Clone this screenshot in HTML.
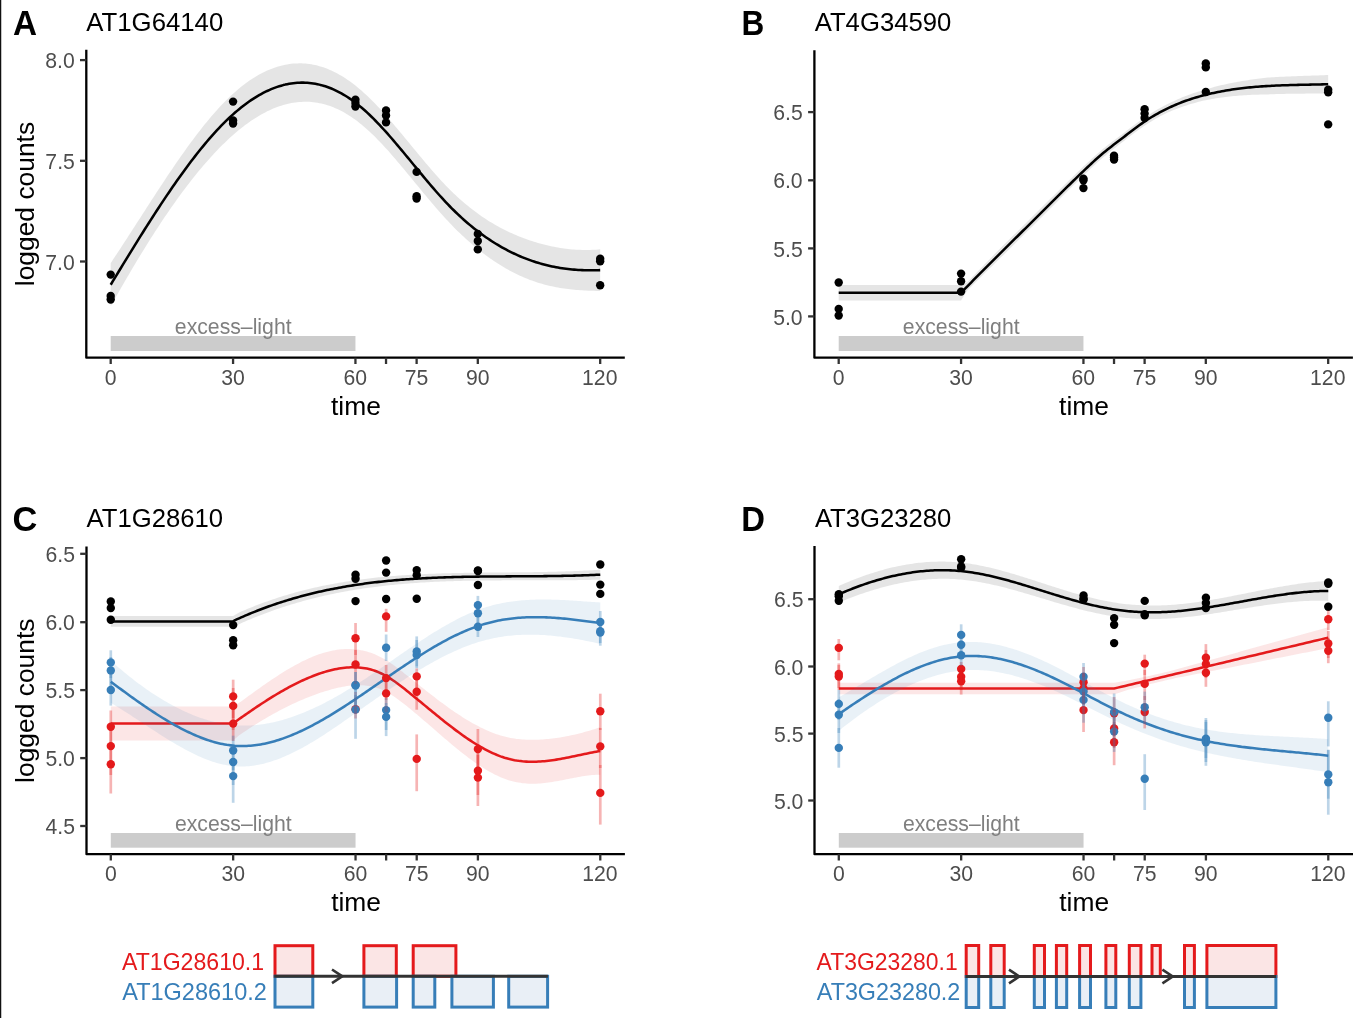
<!DOCTYPE html>
<html><head><meta charset="utf-8"><title>figure</title>
<style>
html,body{margin:0;padding:0;background:#fff;}
body{width:1364px;height:1018px;overflow:hidden;}
svg{display:block;will-change:transform;font-family:"Liberation Sans", sans-serif;}
</style></head>
<body>
<svg width="1364" height="1018" viewBox="0 0 1364 1018">
<rect x="0" y="0" width="1364" height="1018" fill="#fff"/>
<path d="M110.70,263.13 L112.71,260.12 L114.71,257.09 L116.72,254.05 L118.72,250.99 L120.73,247.93 L122.74,244.85 L124.74,241.77 L126.75,238.67 L128.75,235.57 L130.76,232.46 L132.77,229.35 L134.77,226.23 L136.78,223.12 L138.78,220.00 L140.79,216.88 L142.80,213.76 L144.80,210.65 L146.81,207.53 L148.82,204.43 L150.82,201.33 L152.83,198.23 L154.83,195.14 L156.84,192.07 L158.85,189.00 L160.85,185.95 L162.86,182.91 L164.86,179.88 L166.87,176.87 L168.88,173.87 L170.88,170.89 L172.89,167.93 L174.89,165.00 L176.90,162.08 L178.91,159.18 L180.91,156.31 L182.92,153.46 L184.92,150.64 L186.93,147.85 L188.94,145.08 L190.94,142.34 L192.95,139.64 L194.95,136.96 L196.96,134.32 L198.97,131.71 L200.97,129.14 L202.98,126.60 L204.99,124.10 L206.99,121.64 L209.00,119.22 L211.00,116.84 L213.01,114.51 L215.02,112.22 L217.02,109.97 L219.03,107.76 L221.03,105.61 L223.04,103.50 L225.05,101.44 L227.05,99.43 L229.06,97.48 L231.06,95.58 L233.07,93.73 L235.08,91.93 L237.08,90.19 L239.09,88.50 L241.09,86.86 L243.10,85.28 L245.11,83.76 L247.11,82.29 L249.12,80.87 L251.12,79.51 L253.13,78.20 L255.14,76.94 L257.14,75.75 L259.15,74.60 L261.15,73.51 L263.16,72.48 L265.17,71.50 L267.17,70.58 L269.18,69.71 L271.19,68.89 L273.19,68.13 L275.20,67.43 L277.20,66.78 L279.21,66.19 L281.22,65.66 L283.22,65.18 L285.23,64.75 L287.23,64.38 L289.24,64.07 L291.25,63.81 L293.25,63.61 L295.26,63.46 L297.26,63.38 L299.27,63.34 L301.28,63.37 L303.28,63.45 L305.29,63.58 L307.29,63.78 L309.30,64.03 L311.31,64.33 L313.31,64.70 L315.32,65.12 L317.32,65.60 L319.33,66.13 L321.34,66.72 L323.34,67.37 L325.35,68.08 L327.36,68.84 L329.36,69.66 L331.37,70.54 L333.37,71.48 L335.38,72.47 L337.39,73.52 L339.39,74.63 L341.40,75.80 L343.40,77.02 L345.41,78.30 L347.42,79.64 L349.42,81.04 L351.43,82.50 L353.43,84.01 L355.44,85.58 L357.45,87.21 L359.45,88.88 L361.46,90.61 L363.46,92.40 L365.47,94.23 L367.48,96.11 L369.48,98.05 L371.49,100.03 L373.49,102.05 L375.50,104.12 L377.51,106.23 L379.51,108.37 L381.52,110.55 L383.52,112.77 L385.53,115.01 L387.54,117.29 L389.54,119.59 L391.55,121.92 L393.56,124.26 L395.56,126.63 L397.57,129.01 L399.57,131.41 L401.58,133.82 L403.59,136.24 L405.59,138.67 L407.60,141.10 L409.60,143.54 L411.61,145.98 L413.62,148.42 L415.62,150.85 L417.63,153.28 L419.63,155.70 L421.64,158.10 L423.65,160.50 L425.65,162.88 L427.66,165.25 L429.66,167.59 L431.67,169.91 L433.68,172.21 L435.68,174.49 L437.69,176.73 L439.69,178.95 L441.70,181.13 L443.71,183.27 L445.71,185.38 L447.72,187.45 L449.73,189.48 L451.73,191.46 L453.74,193.41 L455.74,195.31 L457.75,197.17 L459.76,198.99 L461.76,200.77 L463.77,202.51 L465.77,204.21 L467.78,205.87 L469.79,207.49 L471.79,209.07 L473.80,210.62 L475.80,212.12 L477.81,213.59 L479.82,215.02 L481.82,216.41 L483.83,217.77 L485.83,219.10 L487.84,220.39 L489.85,221.64 L491.85,222.86 L493.86,224.05 L495.86,225.21 L497.87,226.33 L499.88,227.42 L501.88,228.49 L503.89,229.52 L505.89,230.52 L507.90,231.49 L509.91,232.44 L511.91,233.35 L513.92,234.24 L515.93,235.10 L517.93,235.94 L519.94,236.75 L521.94,237.53 L523.95,238.29 L525.96,239.03 L527.96,239.74 L529.97,240.42 L531.97,241.09 L533.98,241.73 L535.99,242.35 L537.99,242.94 L540.00,243.51 L542.00,244.06 L544.01,244.58 L546.02,245.08 L548.02,245.56 L550.03,246.01 L552.03,246.44 L554.04,246.84 L556.05,247.22 L558.05,247.58 L560.06,247.91 L562.06,248.22 L564.07,248.50 L566.08,248.76 L568.08,248.99 L570.09,249.20 L572.10,249.38 L574.10,249.54 L576.11,249.68 L578.11,249.79 L580.12,249.87 L582.13,249.93 L584.13,249.96 L586.14,249.97 L588.14,249.96 L590.15,249.92 L592.16,249.85 L594.16,249.76 L596.17,249.64 L598.17,249.49 L600.18,249.32 L600.18,290.93 L598.17,290.92 L596.17,290.89 L594.16,290.85 L592.16,290.80 L590.15,290.74 L588.14,290.67 L586.14,290.58 L584.13,290.48 L582.13,290.36 L580.12,290.22 L578.11,290.07 L576.11,289.91 L574.10,289.72 L572.10,289.52 L570.09,289.29 L568.08,289.05 L566.08,288.79 L564.07,288.51 L562.06,288.20 L560.06,287.88 L558.05,287.53 L556.05,287.15 L554.04,286.76 L552.03,286.33 L550.03,285.89 L548.02,285.41 L546.02,284.91 L544.01,284.39 L542.00,283.83 L540.00,283.25 L537.99,282.63 L535.99,281.99 L533.98,281.32 L531.97,280.61 L529.97,279.88 L527.96,279.11 L525.96,278.30 L523.95,277.47 L521.94,276.60 L519.94,275.70 L517.93,274.76 L515.93,273.80 L513.92,272.79 L511.91,271.76 L509.91,270.69 L507.90,269.59 L505.89,268.46 L503.89,267.29 L501.88,266.09 L499.88,264.85 L497.87,263.58 L495.86,262.28 L493.86,260.95 L491.85,259.58 L489.85,258.17 L487.84,256.74 L485.83,255.27 L483.83,253.76 L481.82,252.23 L479.82,250.66 L477.81,249.05 L475.80,247.41 L473.80,245.74 L471.79,244.04 L469.79,242.30 L467.78,240.52 L465.77,238.71 L463.77,236.87 L461.76,235.00 L459.76,233.09 L457.75,231.14 L455.74,229.16 L453.74,227.14 L451.73,225.09 L449.73,223.00 L447.72,220.87 L445.71,218.71 L443.71,216.51 L441.70,214.28 L439.69,212.03 L437.69,209.74 L435.68,207.43 L433.68,205.09 L431.67,202.74 L429.66,200.36 L427.66,197.97 L425.65,195.57 L423.65,193.15 L421.64,190.72 L419.63,188.29 L417.63,185.85 L415.62,183.40 L413.62,180.96 L411.61,178.52 L409.60,176.08 L407.60,173.64 L405.59,171.22 L403.59,168.80 L401.58,166.40 L399.57,164.01 L397.57,161.64 L395.56,159.29 L393.56,156.96 L391.55,154.65 L389.54,152.37 L387.54,150.12 L385.53,147.90 L383.52,145.72 L381.52,143.57 L379.51,141.45 L377.51,139.38 L375.50,137.35 L373.49,135.36 L371.49,133.43 L369.48,131.54 L367.48,129.70 L365.47,127.92 L363.46,126.19 L361.46,124.51 L359.45,122.89 L357.45,121.33 L355.44,119.83 L353.43,118.39 L351.43,117.00 L349.42,115.68 L347.42,114.42 L345.41,113.22 L343.40,112.08 L341.40,111.00 L339.39,109.99 L337.39,109.03 L335.38,108.14 L333.37,107.31 L331.37,106.53 L329.36,105.82 L327.36,105.16 L325.35,104.57 L323.34,104.03 L321.34,103.55 L319.33,103.13 L317.32,102.76 L315.32,102.46 L313.31,102.21 L311.31,102.01 L309.30,101.87 L307.29,101.79 L305.29,101.77 L303.28,101.79 L301.28,101.88 L299.27,102.02 L297.26,102.21 L295.26,102.45 L293.25,102.75 L291.25,103.11 L289.24,103.51 L287.23,103.97 L285.23,104.48 L283.22,105.04 L281.22,105.66 L279.21,106.32 L277.20,107.04 L275.20,107.80 L273.19,108.62 L271.19,109.48 L269.18,110.40 L267.17,111.36 L265.17,112.38 L263.16,113.44 L261.15,114.55 L259.15,115.71 L257.14,116.91 L255.14,118.16 L253.13,119.46 L251.12,120.81 L249.12,122.20 L247.11,123.64 L245.11,125.12 L243.10,126.65 L241.09,128.22 L239.09,129.84 L237.08,131.50 L235.08,133.21 L233.07,134.96 L231.06,136.75 L229.06,138.59 L227.05,140.46 L225.05,142.38 L223.04,144.34 L221.03,146.33 L219.03,148.37 L217.02,150.44 L215.02,152.56 L213.01,154.71 L211.00,156.90 L209.00,159.13 L206.99,161.39 L204.99,163.70 L202.98,166.03 L200.97,168.41 L198.97,170.82 L196.96,173.26 L194.95,175.74 L192.95,178.26 L190.94,180.81 L188.94,183.39 L186.93,186.01 L184.92,188.65 L182.92,191.34 L180.91,194.05 L178.91,196.80 L176.90,199.57 L174.89,202.38 L172.89,205.22 L170.88,208.09 L168.88,210.99 L166.87,213.91 L164.86,216.87 L162.86,219.86 L160.85,222.87 L158.85,225.91 L156.84,228.98 L154.83,232.08 L152.83,235.20 L150.82,238.35 L148.82,241.53 L146.81,244.73 L144.80,247.96 L142.80,251.21 L140.79,254.49 L138.78,257.79 L136.78,261.11 L134.77,264.46 L132.77,267.83 L130.76,271.22 L128.75,274.64 L126.75,278.08 L124.74,281.53 L122.74,285.01 L120.73,288.51 L118.72,292.03 L116.72,295.57 L114.71,299.13 L112.71,302.71 L110.70,306.31 Z" fill="#999999" fill-opacity="0.260" stroke="none" stroke-width="0.00" stroke-linejoin="round"/>
<rect x="110.70" y="336.00" width="244.74" height="15.00" fill="#CCCCCC"/>
<text transform="translate(174.84,334.10) scale(0.9562,1)" font-size="22.20" fill="#7F7F7F">excess–light</text>
<path d="M110.70,284.72 L112.71,281.42 L114.71,278.11 L116.72,274.81 L118.72,271.51 L120.73,268.22 L122.74,264.93 L124.74,261.65 L126.75,258.37 L128.75,255.10 L130.76,251.84 L132.77,248.59 L134.77,245.35 L136.78,242.11 L138.78,238.89 L140.79,235.68 L142.80,232.49 L144.80,229.30 L146.81,226.13 L148.82,222.98 L150.82,219.84 L152.83,216.72 L154.83,213.61 L156.84,210.53 L158.85,207.46 L160.85,204.41 L162.86,201.38 L164.86,198.38 L166.87,195.39 L168.88,192.43 L170.88,189.49 L172.89,186.58 L174.89,183.69 L176.90,180.82 L178.91,177.99 L180.91,175.18 L182.92,172.40 L184.92,169.65 L186.93,166.93 L188.94,164.23 L190.94,161.57 L192.95,158.95 L194.95,156.35 L196.96,153.79 L198.97,151.26 L200.97,148.77 L202.98,146.32 L204.99,143.90 L206.99,141.52 L209.00,139.18 L211.00,136.87 L213.01,134.61 L215.02,132.39 L217.02,130.21 L219.03,128.07 L221.03,125.97 L223.04,123.92 L225.05,121.91 L227.05,119.95 L229.06,118.03 L231.06,116.16 L233.07,114.34 L235.08,112.57 L237.08,110.85 L239.09,109.17 L241.09,107.54 L243.10,105.97 L245.11,104.44 L247.11,102.96 L249.12,101.54 L251.12,100.16 L253.13,98.83 L255.14,97.55 L257.14,96.33 L259.15,95.15 L261.15,94.03 L263.16,92.96 L265.17,91.94 L267.17,90.97 L269.18,90.05 L271.19,89.19 L273.19,88.38 L275.20,87.62 L277.20,86.91 L279.21,86.26 L281.22,85.66 L283.22,85.11 L285.23,84.62 L287.23,84.18 L289.24,83.79 L291.25,83.46 L293.25,83.18 L295.26,82.96 L297.26,82.79 L299.27,82.68 L301.28,82.62 L303.28,82.62 L305.29,82.68 L307.29,82.79 L309.30,82.95 L311.31,83.17 L313.31,83.45 L315.32,83.79 L317.32,84.18 L319.33,84.63 L321.34,85.14 L323.34,85.70 L325.35,86.32 L327.36,87.00 L329.36,87.74 L331.37,88.54 L333.37,89.39 L335.38,90.30 L337.39,91.28 L339.39,92.31 L341.40,93.40 L343.40,94.55 L345.41,95.76 L347.42,97.03 L349.42,98.36 L351.43,99.75 L353.43,101.20 L355.44,102.71 L357.45,104.27 L359.45,105.89 L361.46,107.56 L363.46,109.29 L365.47,111.07 L367.48,112.91 L369.48,114.79 L371.49,116.73 L373.49,118.71 L375.50,120.73 L377.51,122.80 L379.51,124.91 L381.52,127.06 L383.52,129.24 L385.53,131.46 L387.54,133.71 L389.54,135.98 L391.55,138.28 L393.56,140.61 L395.56,142.96 L397.57,145.33 L399.57,147.71 L401.58,150.11 L403.59,152.52 L405.59,154.94 L407.60,157.37 L409.60,159.81 L411.61,162.25 L413.62,164.69 L415.62,167.13 L417.63,169.56 L419.63,171.99 L421.64,174.41 L423.65,176.82 L425.65,179.22 L427.66,181.61 L429.66,183.98 L431.67,186.33 L433.68,188.65 L435.68,190.96 L437.69,193.24 L439.69,195.49 L441.70,197.71 L443.71,199.89 L445.71,202.05 L447.72,204.16 L449.73,206.24 L451.73,208.28 L453.74,210.27 L455.74,212.23 L457.75,214.16 L459.76,216.04 L461.76,217.88 L463.77,219.69 L465.77,221.46 L467.78,223.20 L469.79,224.89 L471.79,226.55 L473.80,228.18 L475.80,229.77 L477.81,231.32 L479.82,232.84 L481.82,234.32 L483.83,235.77 L485.83,237.18 L487.84,238.56 L489.85,239.91 L491.85,241.22 L493.86,242.50 L495.86,243.74 L497.87,244.96 L499.88,246.14 L501.88,247.29 L503.89,248.40 L505.89,249.49 L507.90,250.54 L509.91,251.56 L511.91,252.56 L513.92,253.52 L515.93,254.45 L517.93,255.35 L519.94,256.22 L521.94,257.07 L523.95,257.88 L525.96,258.66 L527.96,259.42 L529.97,260.15 L531.97,260.85 L533.98,261.52 L535.99,262.17 L537.99,262.79 L540.00,263.38 L542.00,263.95 L544.01,264.48 L546.02,265.00 L548.02,265.49 L550.03,265.95 L552.03,266.39 L554.04,266.80 L556.05,267.19 L558.05,267.55 L560.06,267.89 L562.06,268.21 L564.07,268.50 L566.08,268.77 L568.08,269.02 L570.09,269.25 L572.10,269.45 L574.10,269.63 L576.11,269.79 L578.11,269.93 L580.12,270.05 L582.13,270.14 L584.13,270.22 L586.14,270.28 L588.14,270.31 L590.15,270.33 L592.16,270.33 L594.16,270.31 L596.17,270.26 L598.17,270.21 L600.18,270.13" fill="none" stroke="#000" stroke-width="2.55" stroke-linejoin="round"/>
<circle cx="110.70" cy="274.60" r="4.20" fill="#000"/>
<circle cx="110.70" cy="296.00" r="4.20" fill="#000"/>
<circle cx="110.70" cy="299.50" r="4.20" fill="#000"/>
<circle cx="233.07" cy="101.60" r="4.20" fill="#000"/>
<circle cx="233.07" cy="120.40" r="4.20" fill="#000"/>
<circle cx="233.07" cy="123.50" r="4.20" fill="#000"/>
<circle cx="355.44" cy="99.80" r="4.20" fill="#000"/>
<circle cx="355.44" cy="103.00" r="4.20" fill="#000"/>
<circle cx="355.44" cy="106.50" r="4.20" fill="#000"/>
<circle cx="386.03" cy="110.40" r="4.20" fill="#000"/>
<circle cx="386.03" cy="115.50" r="4.20" fill="#000"/>
<circle cx="386.03" cy="122.40" r="4.20" fill="#000"/>
<circle cx="416.62" cy="171.90" r="4.20" fill="#000"/>
<circle cx="416.62" cy="196.20" r="4.20" fill="#000"/>
<circle cx="416.62" cy="198.50" r="4.20" fill="#000"/>
<circle cx="477.81" cy="233.90" r="4.20" fill="#000"/>
<circle cx="477.81" cy="241.00" r="4.20" fill="#000"/>
<circle cx="477.81" cy="249.40" r="4.20" fill="#000"/>
<circle cx="600.18" cy="258.80" r="4.20" fill="#000"/>
<circle cx="600.18" cy="261.20" r="4.20" fill="#000"/>
<circle cx="600.18" cy="285.20" r="4.20" fill="#000"/>
<path d="M86.30,49.70 L86.30,357.70 L624.80,357.70" fill="none" stroke="#000" stroke-width="2.3" stroke-linejoin="round"/>
<line x1="110.70" y1="357.70" x2="110.70" y2="364.00" stroke="#333" stroke-width="2.3"/>
<text transform="translate(104.78,385.20) scale(0.9550,1)" font-size="22.20" fill="#4D4D4D">0</text>
<line x1="233.07" y1="357.70" x2="233.07" y2="364.00" stroke="#333" stroke-width="2.3"/>
<text transform="translate(221.28,385.20) scale(0.9550,1)" font-size="22.20" fill="#4D4D4D">30</text>
<line x1="355.44" y1="357.70" x2="355.44" y2="364.00" stroke="#333" stroke-width="2.3"/>
<text transform="translate(343.55,385.20) scale(0.9550,1)" font-size="22.20" fill="#4D4D4D">60</text>
<line x1="386.03" y1="357.70" x2="386.03" y2="364.00" stroke="#333" stroke-width="2.3"/>
<line x1="416.62" y1="357.70" x2="416.62" y2="364.00" stroke="#333" stroke-width="2.3"/>
<text transform="translate(404.78,385.20) scale(0.9550,1)" font-size="22.20" fill="#4D4D4D">75</text>
<line x1="477.81" y1="357.70" x2="477.81" y2="364.00" stroke="#333" stroke-width="2.3"/>
<text transform="translate(465.97,385.20) scale(0.9550,1)" font-size="22.20" fill="#4D4D4D">90</text>
<line x1="600.18" y1="357.70" x2="600.18" y2="364.00" stroke="#333" stroke-width="2.3"/>
<text transform="translate(582.08,385.20) scale(0.9550,1)" font-size="22.20" fill="#4D4D4D">120</text>
<line x1="80.00" y1="60.10" x2="86.30" y2="60.10" stroke="#333" stroke-width="2.3"/>
<text transform="translate(45.25,68.20) scale(0.9550,1)" font-size="22.20" fill="#4D4D4D">8.0</text>
<line x1="80.00" y1="160.80" x2="86.30" y2="160.80" stroke="#333" stroke-width="2.3"/>
<text transform="translate(45.35,168.90) scale(0.9550,1)" font-size="22.20" fill="#4D4D4D">7.5</text>
<line x1="80.00" y1="261.50" x2="86.30" y2="261.50" stroke="#333" stroke-width="2.3"/>
<text transform="translate(45.25,269.60) scale(0.9550,1)" font-size="22.20" fill="#4D4D4D">7.0</text>
<text transform="translate(331.00,414.60) scale(1.0000,1)" font-size="26.40" fill="#000">time</text>
<text transform="translate(33.70,286.20) rotate(-90)" font-size="26.4" fill="#000">logged counts</text>
<path d="M838.70,285.10 L961.07,285.10 L967.09,282.53 L969.09,280.43 L971.10,278.33 L973.11,276.24 L975.11,274.16 L977.12,272.09 L979.12,270.02 L981.13,267.95 L983.14,265.89 L985.14,263.84 L987.15,261.79 L989.15,259.74 L991.16,257.70 L993.17,255.66 L995.17,253.62 L997.18,251.59 L999.19,249.56 L1001.19,247.53 L1003.20,245.53 L1005.20,243.55 L1007.21,241.56 L1009.22,239.58 L1011.22,237.60 L1013.23,235.62 L1015.23,233.64 L1017.24,231.67 L1019.25,229.69 L1021.25,227.71 L1023.26,225.73 L1025.26,223.75 L1027.27,221.77 L1029.28,219.79 L1031.28,217.81 L1033.29,215.82 L1035.29,213.84 L1037.30,211.85 L1039.31,209.85 L1041.31,207.86 L1043.32,205.86 L1045.32,203.86 L1047.33,201.86 L1049.34,199.86 L1051.34,197.86 L1053.35,195.88 L1055.36,193.90 L1057.36,191.92 L1059.37,189.94 L1061.37,187.96 L1063.38,185.99 L1065.39,184.02 L1067.39,182.05 L1069.40,180.09 L1071.40,178.14 L1073.41,176.19 L1075.42,174.24 L1077.42,172.31 L1079.43,170.38 L1081.43,168.46 L1083.44,166.55 L1085.45,164.65 L1087.45,162.77 L1089.46,160.90 L1091.46,159.06 L1093.47,157.23 L1095.48,155.44 L1097.48,153.67 L1099.49,151.94 L1101.49,150.25 L1103.50,148.59 L1105.51,146.96 L1107.51,145.36 L1109.52,143.79 L1111.52,142.24 L1113.53,140.70 L1115.54,139.18 L1117.54,137.67 L1119.55,136.16 L1121.56,134.66 L1123.56,133.16 L1125.57,131.63 L1127.57,130.08 L1129.58,128.53 L1131.59,126.98 L1133.59,125.44 L1135.60,123.92 L1137.60,122.42 L1139.61,120.95 L1141.62,119.51 L1143.62,118.10 L1145.63,116.74 L1147.63,115.42 L1149.64,114.14 L1151.65,112.89 L1153.65,111.68 L1155.66,110.50 L1157.66,109.36 L1159.67,108.25 L1161.68,107.17 L1163.68,106.12 L1165.69,105.09 L1167.69,104.06 L1169.70,103.05 L1171.71,102.08 L1173.71,101.13 L1175.72,100.21 L1177.73,99.32 L1179.73,98.45 L1181.74,97.61 L1183.74,96.80 L1185.75,96.01 L1187.76,95.25 L1189.76,94.51 L1191.77,93.79 L1193.77,93.09 L1195.78,92.42 L1197.79,91.77 L1199.79,91.14 L1201.80,90.53 L1203.80,89.94 L1205.81,89.36 L1207.82,88.77 L1209.82,88.20 L1211.83,87.64 L1213.83,87.10 L1215.84,86.57 L1217.85,86.06 L1219.85,85.57 L1221.86,85.09 L1223.86,84.63 L1225.87,84.18 L1227.88,83.75 L1229.88,83.33 L1231.89,82.92 L1233.89,82.53 L1235.90,82.15 L1237.91,81.78 L1239.91,81.43 L1241.92,81.08 L1243.93,80.75 L1245.93,80.43 L1247.94,80.13 L1249.94,79.83 L1251.95,79.54 L1253.96,79.26 L1255.96,78.99 L1257.97,78.73 L1259.97,78.48 L1261.98,78.24 L1263.99,78.01 L1265.99,77.78 L1268.00,77.60 L1270.00,77.46 L1272.01,77.33 L1274.02,77.20 L1276.02,77.08 L1278.03,76.97 L1280.03,76.86 L1282.04,76.76 L1284.05,76.66 L1286.05,76.56 L1288.06,76.47 L1290.06,76.39 L1292.07,76.31 L1294.08,76.23 L1296.08,76.15 L1298.09,76.07 L1300.10,76.00 L1302.10,75.93 L1304.11,75.86 L1306.11,75.79 L1308.12,75.72 L1310.13,75.66 L1312.13,75.59 L1314.14,75.52 L1316.14,75.45 L1318.15,75.38 L1320.16,75.31 L1322.16,75.24 L1324.17,75.16 L1326.17,75.09 L1328.18,75.01 L1328.18,93.41 L1326.17,93.43 L1324.17,93.46 L1322.16,93.48 L1320.16,93.50 L1318.15,93.52 L1316.14,93.54 L1314.14,93.55 L1312.13,93.57 L1310.13,93.58 L1308.12,93.60 L1306.11,93.62 L1304.11,93.63 L1302.10,93.65 L1300.10,93.67 L1298.09,93.69 L1296.08,93.71 L1294.08,93.73 L1292.07,93.76 L1290.06,93.79 L1288.06,93.83 L1286.05,93.86 L1284.05,93.90 L1282.04,93.95 L1280.03,94.00 L1278.03,94.06 L1276.02,94.12 L1274.02,94.19 L1272.01,94.26 L1270.00,94.34 L1268.00,94.42 L1265.99,94.48 L1263.99,94.51 L1261.98,94.55 L1259.97,94.59 L1257.97,94.65 L1255.96,94.71 L1253.96,94.78 L1251.95,94.86 L1249.94,94.95 L1247.94,95.06 L1245.93,95.17 L1243.93,95.29 L1241.92,95.43 L1239.91,95.57 L1237.91,95.73 L1235.90,95.90 L1233.89,96.08 L1231.89,96.28 L1229.88,96.49 L1227.88,96.71 L1225.87,96.95 L1223.86,97.20 L1221.86,97.47 L1219.85,97.75 L1217.85,98.04 L1215.84,98.36 L1213.83,98.68 L1211.83,99.03 L1209.82,99.39 L1207.82,99.77 L1205.81,100.16 L1203.80,100.62 L1201.80,101.09 L1199.79,101.58 L1197.79,102.10 L1195.78,102.63 L1193.77,103.19 L1191.77,103.76 L1189.76,104.36 L1187.76,104.98 L1185.75,105.63 L1183.74,106.30 L1181.74,107.00 L1179.73,107.72 L1177.73,108.46 L1175.72,109.24 L1173.71,110.04 L1171.71,110.87 L1169.70,111.73 L1167.69,112.61 L1165.69,113.53 L1163.68,114.51 L1161.68,115.54 L1159.67,116.60 L1157.66,117.69 L1155.66,118.81 L1153.65,119.97 L1151.65,121.16 L1149.64,122.39 L1147.63,123.65 L1145.63,124.95 L1143.62,126.29 L1141.62,127.68 L1139.61,129.10 L1137.60,130.56 L1135.60,132.04 L1133.59,133.54 L1131.59,135.05 L1129.58,136.58 L1127.57,138.11 L1125.57,139.64 L1123.56,141.17 L1121.56,142.73 L1119.55,144.28 L1117.54,145.83 L1115.54,147.39 L1113.53,148.97 L1111.52,150.55 L1109.52,152.15 L1107.51,153.77 L1105.51,155.42 L1103.50,157.10 L1101.49,158.80 L1099.49,160.55 L1097.48,162.33 L1095.48,164.14 L1093.47,165.99 L1091.46,167.86 L1089.46,169.75 L1087.45,171.67 L1085.45,173.60 L1083.44,175.55 L1081.43,177.50 L1079.43,179.45 L1077.42,181.42 L1075.42,183.39 L1073.41,185.37 L1071.40,187.36 L1069.40,189.35 L1067.39,191.35 L1065.39,193.35 L1063.38,195.36 L1061.37,197.37 L1059.37,199.38 L1057.36,201.40 L1055.36,203.42 L1053.35,205.43 L1051.34,207.45 L1049.34,209.46 L1047.33,211.46 L1045.32,213.46 L1043.32,215.46 L1041.31,217.46 L1039.31,219.45 L1037.30,221.45 L1035.29,223.44 L1033.29,225.42 L1031.28,227.41 L1029.28,229.39 L1027.27,231.37 L1025.26,233.35 L1023.26,235.33 L1021.25,237.31 L1019.25,239.29 L1017.24,241.27 L1015.23,243.24 L1013.23,245.22 L1011.22,247.20 L1009.22,249.18 L1007.21,251.16 L1005.20,253.15 L1003.20,255.13 L1001.19,257.10 L999.19,259.05 L997.18,261.00 L995.17,262.96 L993.17,264.92 L991.16,266.88 L989.15,268.84 L987.15,270.81 L985.14,272.78 L983.14,274.76 L981.13,276.74 L979.12,278.73 L977.12,280.72 L975.11,282.71 L973.11,284.72 L971.10,286.73 L969.09,288.74 L967.09,290.76 L961.07,300.60 L838.70,300.60 Z" fill="#999999" fill-opacity="0.260" stroke="none" stroke-width="0.00" stroke-linejoin="round"/>
<rect x="838.70" y="336.00" width="244.74" height="15.00" fill="#CCCCCC"/>
<text transform="translate(902.84,334.10) scale(0.9562,1)" font-size="22.20" fill="#7F7F7F">excess–light</text>
<path d="M838.70,292.80 L961.07,292.80 L963.08,290.79 L965.08,288.71 L967.09,286.64 L969.09,284.58 L971.10,282.53 L973.11,280.48 L975.11,278.44 L977.12,276.40 L979.12,274.37 L981.13,272.35 L983.14,270.33 L985.14,268.31 L987.15,266.30 L989.15,264.29 L991.16,262.29 L993.17,260.29 L995.17,258.29 L997.18,256.30 L999.19,254.30 L1001.19,252.32 L1003.20,250.33 L1005.20,248.35 L1007.21,246.36 L1009.22,244.38 L1011.22,242.40 L1013.23,240.42 L1015.23,238.44 L1017.24,236.47 L1019.25,234.49 L1021.25,232.51 L1023.26,230.53 L1025.26,228.55 L1027.27,226.57 L1029.28,224.59 L1031.28,222.61 L1033.29,220.62 L1035.29,218.64 L1037.30,216.65 L1039.31,214.65 L1041.31,212.66 L1043.32,210.66 L1045.32,208.66 L1047.33,206.66 L1049.34,204.66 L1051.34,202.66 L1053.35,200.66 L1055.36,198.66 L1057.36,196.66 L1059.37,194.66 L1061.37,192.67 L1063.38,190.67 L1065.39,188.69 L1067.39,186.70 L1069.40,184.72 L1071.40,182.75 L1073.41,180.78 L1075.42,178.82 L1077.42,176.86 L1079.43,174.92 L1081.43,172.98 L1083.44,171.05 L1085.45,169.13 L1087.45,167.22 L1089.46,165.33 L1091.46,163.46 L1093.47,161.61 L1095.48,159.79 L1097.48,158.00 L1099.49,156.24 L1101.49,154.52 L1103.50,152.84 L1105.51,151.19 L1107.51,149.57 L1109.52,147.97 L1111.52,146.39 L1113.53,144.83 L1115.54,143.29 L1117.54,141.75 L1119.55,140.22 L1121.56,138.69 L1123.56,137.17 L1125.57,135.63 L1127.57,134.09 L1129.58,132.55 L1131.59,131.02 L1133.59,129.49 L1135.60,127.98 L1137.60,126.49 L1139.61,125.03 L1141.62,123.59 L1143.62,122.20 L1145.63,120.84 L1147.63,119.53 L1149.64,118.26 L1151.65,117.03 L1153.65,115.82 L1155.66,114.66 L1157.66,113.52 L1159.67,112.42 L1161.68,111.35 L1163.68,110.32 L1165.69,109.31 L1167.69,108.34 L1169.70,107.39 L1171.71,106.47 L1173.71,105.58 L1175.72,104.72 L1177.73,103.89 L1179.73,103.08 L1181.74,102.30 L1183.74,101.55 L1185.75,100.82 L1187.76,100.11 L1189.76,99.43 L1191.77,98.78 L1193.77,98.14 L1195.78,97.53 L1197.79,96.93 L1199.79,96.36 L1201.80,95.81 L1203.80,95.28 L1205.81,94.76 L1207.82,94.27 L1209.82,93.79 L1211.83,93.33 L1213.83,92.89 L1215.84,92.46 L1217.85,92.05 L1219.85,91.66 L1221.86,91.28 L1223.86,90.91 L1225.87,90.56 L1227.88,90.23 L1229.88,89.91 L1231.89,89.60 L1233.89,89.31 L1235.90,89.02 L1237.91,88.76 L1239.91,88.50 L1241.92,88.26 L1243.93,88.02 L1245.93,87.80 L1247.94,87.59 L1249.94,87.39 L1251.95,87.20 L1253.96,87.02 L1255.96,86.85 L1257.97,86.69 L1259.97,86.54 L1261.98,86.39 L1263.99,86.26 L1265.99,86.13 L1268.00,86.01 L1270.00,85.90 L1272.01,85.79 L1274.02,85.69 L1276.02,85.60 L1278.03,85.51 L1280.03,85.43 L1282.04,85.35 L1284.05,85.28 L1286.05,85.21 L1288.06,85.15 L1290.06,85.09 L1292.07,85.03 L1294.08,84.98 L1296.08,84.93 L1298.09,84.88 L1300.10,84.83 L1302.10,84.79 L1304.11,84.75 L1306.11,84.70 L1308.12,84.66 L1310.13,84.62 L1312.13,84.58 L1314.14,84.54 L1316.14,84.50 L1318.15,84.45 L1320.16,84.41 L1322.16,84.36 L1324.17,84.31 L1326.17,84.26 L1328.18,84.21" fill="none" stroke="#000" stroke-width="2.55" stroke-linejoin="round"/>
<circle cx="838.70" cy="282.50" r="4.20" fill="#000"/>
<circle cx="838.70" cy="308.90" r="4.20" fill="#000"/>
<circle cx="838.70" cy="315.50" r="4.20" fill="#000"/>
<circle cx="961.07" cy="273.60" r="4.20" fill="#000"/>
<circle cx="961.07" cy="281.30" r="4.20" fill="#000"/>
<circle cx="961.07" cy="291.60" r="4.20" fill="#000"/>
<circle cx="1083.44" cy="178.60" r="4.20" fill="#000"/>
<circle cx="1083.44" cy="180.20" r="4.20" fill="#000"/>
<circle cx="1083.44" cy="188.10" r="4.20" fill="#000"/>
<circle cx="1114.03" cy="155.70" r="4.20" fill="#000"/>
<circle cx="1114.03" cy="157.60" r="4.20" fill="#000"/>
<circle cx="1114.03" cy="159.50" r="4.20" fill="#000"/>
<circle cx="1144.62" cy="109.20" r="4.20" fill="#000"/>
<circle cx="1144.62" cy="113.60" r="4.20" fill="#000"/>
<circle cx="1144.62" cy="118.00" r="4.20" fill="#000"/>
<circle cx="1205.81" cy="63.50" r="4.20" fill="#000"/>
<circle cx="1205.81" cy="67.40" r="4.20" fill="#000"/>
<circle cx="1205.81" cy="92.00" r="4.20" fill="#000"/>
<circle cx="1328.18" cy="89.80" r="4.20" fill="#000"/>
<circle cx="1328.18" cy="92.30" r="4.20" fill="#000"/>
<circle cx="1328.18" cy="124.40" r="4.20" fill="#000"/>
<path d="M814.40,50.30 L814.40,357.70 L1352.90,357.70" fill="none" stroke="#000" stroke-width="2.3" stroke-linejoin="round"/>
<line x1="838.70" y1="357.70" x2="838.70" y2="364.00" stroke="#333" stroke-width="2.3"/>
<text transform="translate(832.78,385.20) scale(0.9550,1)" font-size="22.20" fill="#4D4D4D">0</text>
<line x1="961.07" y1="357.70" x2="961.07" y2="364.00" stroke="#333" stroke-width="2.3"/>
<text transform="translate(949.28,385.20) scale(0.9550,1)" font-size="22.20" fill="#4D4D4D">30</text>
<line x1="1083.44" y1="357.70" x2="1083.44" y2="364.00" stroke="#333" stroke-width="2.3"/>
<text transform="translate(1071.55,385.20) scale(0.9550,1)" font-size="22.20" fill="#4D4D4D">60</text>
<line x1="1114.03" y1="357.70" x2="1114.03" y2="364.00" stroke="#333" stroke-width="2.3"/>
<line x1="1144.62" y1="357.70" x2="1144.62" y2="364.00" stroke="#333" stroke-width="2.3"/>
<text transform="translate(1132.78,385.20) scale(0.9550,1)" font-size="22.20" fill="#4D4D4D">75</text>
<line x1="1205.81" y1="357.70" x2="1205.81" y2="364.00" stroke="#333" stroke-width="2.3"/>
<text transform="translate(1193.97,385.20) scale(0.9550,1)" font-size="22.20" fill="#4D4D4D">90</text>
<line x1="1328.18" y1="357.70" x2="1328.18" y2="364.00" stroke="#333" stroke-width="2.3"/>
<text transform="translate(1310.08,385.20) scale(0.9550,1)" font-size="22.20" fill="#4D4D4D">120</text>
<line x1="808.10" y1="112.10" x2="814.40" y2="112.10" stroke="#333" stroke-width="2.3"/>
<text transform="translate(773.25,120.20) scale(0.9550,1)" font-size="22.20" fill="#4D4D4D">6.5</text>
<line x1="808.10" y1="180.30" x2="814.40" y2="180.30" stroke="#333" stroke-width="2.3"/>
<text transform="translate(773.15,188.40) scale(0.9550,1)" font-size="22.20" fill="#4D4D4D">6.0</text>
<line x1="808.10" y1="248.40" x2="814.40" y2="248.40" stroke="#333" stroke-width="2.3"/>
<text transform="translate(773.25,256.50) scale(0.9550,1)" font-size="22.20" fill="#4D4D4D">5.5</text>
<line x1="808.10" y1="316.40" x2="814.40" y2="316.40" stroke="#333" stroke-width="2.3"/>
<text transform="translate(773.15,324.50) scale(0.9550,1)" font-size="22.20" fill="#4D4D4D">5.0</text>
<text transform="translate(1059.10,414.60) scale(1.0000,1)" font-size="26.40" fill="#000">time</text>
<path d="M110.80,616.00 L233.17,616.00 L239.16,612.48 L241.15,611.60 L243.15,610.74 L245.14,609.90 L247.14,609.06 L249.13,608.24 L251.13,607.43 L253.12,606.63 L255.12,605.85 L257.11,605.08 L259.11,604.32 L261.10,603.57 L263.10,602.84 L265.09,602.11 L267.09,601.40 L269.08,600.70 L271.08,600.01 L273.07,599.34 L275.07,598.67 L277.06,598.02 L279.06,597.37 L281.05,596.74 L283.05,596.12 L285.04,595.51 L287.04,594.91 L289.03,594.32 L291.03,593.75 L293.02,593.18 L295.02,592.62 L297.02,592.08 L299.01,591.54 L301.01,591.01 L303.00,590.50 L305.00,589.99 L306.99,589.50 L308.99,589.01 L310.98,588.53 L312.98,588.07 L314.97,587.61 L316.97,587.16 L318.96,586.72 L320.96,586.29 L322.95,585.87 L324.95,585.46 L326.94,585.05 L328.94,584.66 L330.93,584.27 L332.93,583.89 L334.92,583.53 L336.92,583.16 L338.91,582.81 L340.91,582.47 L342.90,582.13 L344.90,581.80 L346.89,581.48 L348.89,581.17 L350.88,580.87 L352.88,580.57 L354.87,580.28 L356.87,579.99 L358.87,579.72 L360.86,579.45 L362.86,579.19 L364.85,578.94 L366.85,578.69 L368.84,578.45 L370.84,578.21 L372.83,577.98 L374.83,577.76 L376.82,577.55 L378.82,577.34 L380.81,577.14 L382.81,576.94 L384.80,576.75 L386.80,576.57 L388.79,576.39 L390.79,576.21 L392.78,576.05 L394.78,575.88 L396.77,575.73 L398.77,575.58 L400.76,575.43 L402.76,575.29 L404.75,575.15 L406.75,575.02 L408.74,574.89 L410.74,574.77 L412.73,574.65 L414.73,574.54 L416.73,574.43 L418.72,574.33 L420.72,574.22 L422.71,574.13 L424.71,574.04 L426.70,573.95 L428.70,573.86 L430.69,573.78 L432.69,573.70 L434.68,573.63 L436.68,573.56 L438.67,573.49 L440.67,573.43 L442.66,573.36 L444.66,573.31 L446.65,573.25 L448.65,573.20 L450.64,573.15 L452.64,573.10 L454.63,573.05 L456.63,573.01 L458.62,572.97 L460.62,572.93 L462.61,572.90 L464.61,572.86 L466.60,572.83 L468.60,572.80 L470.59,572.77 L472.59,572.74 L474.58,572.72 L476.58,572.69 L478.58,572.67 L480.57,572.64 L482.57,572.62 L484.56,572.60 L486.56,572.58 L488.55,572.56 L490.55,572.55 L492.54,572.53 L494.54,572.51 L496.53,572.50 L498.53,572.48 L500.52,572.46 L502.52,572.45 L504.51,572.43 L506.51,572.41 L508.50,572.40 L510.50,572.38 L512.49,572.36 L514.49,572.35 L516.48,572.33 L518.48,572.31 L520.47,572.29 L522.47,572.27 L524.46,572.25 L526.46,572.22 L528.45,572.20 L530.45,572.17 L532.44,572.15 L534.44,572.12 L536.43,572.09 L538.43,572.05 L540.43,572.02 L542.42,571.98 L544.42,571.95 L546.41,571.91 L548.41,571.86 L550.40,571.82 L552.40,571.77 L554.39,571.72 L556.39,571.67 L558.38,571.62 L560.38,571.56 L562.37,571.50 L564.37,571.44 L566.36,571.37 L568.36,571.30 L570.35,571.23 L572.35,571.15 L574.34,571.07 L576.34,570.99 L578.33,570.90 L580.33,570.81 L582.32,570.71 L584.32,570.61 L586.31,570.51 L588.31,570.40 L590.30,570.29 L592.30,570.17 L594.29,570.05 L596.29,569.93 L598.28,569.80 L600.28,569.66 L600.28,579.67 L598.28,579.72 L596.29,579.77 L594.29,579.82 L592.30,579.87 L590.30,579.91 L588.31,579.95 L586.31,579.98 L584.32,580.02 L582.32,580.05 L580.33,580.08 L578.33,580.11 L576.34,580.13 L574.34,580.16 L572.35,580.18 L570.35,580.20 L568.36,580.22 L566.36,580.23 L564.37,580.25 L562.37,580.26 L560.38,580.27 L558.38,580.28 L556.39,580.29 L554.39,580.30 L552.40,580.31 L550.40,580.31 L548.41,580.32 L546.41,580.32 L544.42,580.32 L542.42,580.33 L540.43,580.33 L538.43,580.33 L536.43,580.33 L534.44,580.33 L532.44,580.33 L530.45,580.33 L528.45,580.33 L526.46,580.33 L524.46,580.33 L522.47,580.33 L520.47,580.34 L518.48,580.34 L516.48,580.34 L514.49,580.34 L512.49,580.34 L510.50,580.35 L508.50,580.35 L506.51,580.36 L504.51,580.36 L502.52,580.37 L500.52,580.38 L498.53,580.39 L496.53,580.40 L494.54,580.41 L492.54,580.42 L490.55,580.44 L488.55,580.46 L486.56,580.47 L484.56,580.50 L482.57,580.52 L480.57,580.54 L478.58,580.57 L476.58,580.60 L474.58,580.63 L472.59,580.66 L470.59,580.70 L468.60,580.73 L466.60,580.78 L464.61,580.82 L462.61,580.86 L460.62,580.91 L458.62,580.97 L456.63,581.02 L454.63,581.08 L452.64,581.14 L450.64,581.20 L448.65,581.27 L446.65,581.34 L444.66,581.42 L442.66,581.50 L440.67,581.58 L438.67,581.66 L436.68,581.75 L434.68,581.85 L432.69,581.95 L430.69,582.05 L428.70,582.15 L426.70,582.26 L424.71,582.38 L422.71,582.50 L420.72,582.62 L418.72,582.75 L416.73,582.88 L414.73,583.02 L412.73,583.17 L410.74,583.31 L408.74,583.47 L406.75,583.63 L404.75,583.79 L402.76,583.96 L400.76,584.13 L398.77,584.31 L396.77,584.50 L394.78,584.69 L392.78,584.88 L390.79,585.09 L388.79,585.30 L386.80,585.51 L384.80,585.73 L382.81,585.96 L380.81,586.19 L378.82,586.43 L376.82,586.68 L374.83,586.93 L372.83,587.19 L370.84,587.46 L368.84,587.73 L366.85,588.01 L364.85,588.29 L362.86,588.59 L360.86,588.89 L358.87,589.20 L356.87,589.51 L354.87,589.83 L352.88,590.16 L350.88,590.50 L348.89,590.85 L346.89,591.20 L344.90,591.56 L342.90,591.93 L340.91,592.31 L338.91,592.69 L336.92,593.09 L334.92,593.49 L332.93,593.90 L330.93,594.31 L328.94,594.74 L326.94,595.18 L324.95,595.62 L322.95,596.07 L320.96,596.54 L318.96,597.01 L316.97,597.49 L314.97,597.97 L312.98,598.47 L310.98,598.98 L308.99,599.50 L306.99,600.02 L305.00,600.56 L303.00,601.10 L301.01,601.66 L299.01,602.22 L297.02,602.80 L295.02,603.38 L293.02,603.97 L291.03,604.58 L289.03,605.19 L287.04,605.82 L285.04,606.46 L283.05,607.10 L281.05,607.76 L279.06,608.43 L277.06,609.10 L275.07,609.79 L273.07,610.49 L271.08,611.20 L269.08,611.92 L267.09,612.66 L265.09,613.40 L263.10,614.16 L261.10,614.92 L259.11,615.70 L257.11,616.49 L255.12,617.30 L253.12,618.11 L251.13,618.93 L249.13,619.77 L247.14,620.62 L245.14,621.48 L243.15,622.36 L241.15,623.24 L239.16,624.14 L233.17,626.80 L110.80,626.80 Z" fill="#999999" fill-opacity="0.260" stroke="none" stroke-width="0.00" stroke-linejoin="round"/>
<path d="M110.80,621.40 L233.17,621.40 L235.17,620.12 L237.16,619.21 L239.16,618.31 L241.15,617.42 L243.15,616.55 L245.14,615.69 L247.14,614.84 L249.13,614.01 L251.13,613.18 L253.12,612.37 L255.12,611.57 L257.11,610.79 L259.11,610.01 L261.10,609.25 L263.10,608.50 L265.09,607.76 L267.09,607.03 L269.08,606.31 L271.08,605.61 L273.07,604.91 L275.07,604.23 L277.06,603.56 L279.06,602.90 L281.05,602.25 L283.05,601.61 L285.04,600.98 L287.04,600.37 L289.03,599.76 L291.03,599.16 L293.02,598.58 L295.02,598.00 L297.02,597.44 L299.01,596.88 L301.01,596.34 L303.00,595.80 L305.00,595.27 L306.99,594.76 L308.99,594.25 L310.98,593.76 L312.98,593.27 L314.97,592.79 L316.97,592.32 L318.96,591.86 L320.96,591.41 L322.95,590.97 L324.95,590.54 L326.94,590.11 L328.94,589.70 L330.93,589.29 L332.93,588.90 L334.92,588.51 L336.92,588.13 L338.91,587.75 L340.91,587.39 L342.90,587.03 L344.90,586.68 L346.89,586.34 L348.89,586.01 L350.88,585.68 L352.88,585.37 L354.87,585.06 L356.87,584.75 L358.87,584.46 L360.86,584.17 L362.86,583.89 L364.85,583.61 L366.85,583.35 L368.84,583.09 L370.84,582.83 L372.83,582.59 L374.83,582.35 L376.82,582.11 L378.82,581.89 L380.81,581.66 L382.81,581.45 L384.80,581.24 L386.80,581.04 L388.79,580.84 L390.79,580.65 L392.78,580.47 L394.78,580.29 L396.77,580.11 L398.77,579.94 L400.76,579.78 L402.76,579.62 L404.75,579.47 L406.75,579.32 L408.74,579.18 L410.74,579.04 L412.73,578.91 L414.73,578.78 L416.73,578.66 L418.72,578.54 L420.72,578.42 L422.71,578.31 L424.71,578.21 L426.70,578.11 L428.70,578.01 L430.69,577.91 L432.69,577.82 L434.68,577.74 L436.68,577.66 L438.67,577.58 L440.67,577.50 L442.66,577.43 L444.66,577.36 L446.65,577.30 L448.65,577.23 L450.64,577.18 L452.64,577.12 L454.63,577.07 L456.63,577.02 L458.62,576.97 L460.62,576.92 L462.61,576.88 L464.61,576.84 L466.60,576.80 L468.60,576.77 L470.59,576.73 L472.59,576.70 L474.58,576.67 L476.58,576.64 L478.58,576.62 L480.57,576.59 L482.57,576.57 L484.56,576.55 L486.56,576.53 L488.55,576.51 L490.55,576.49 L492.54,576.48 L494.54,576.46 L496.53,576.45 L498.53,576.43 L500.52,576.42 L502.52,576.41 L504.51,576.40 L506.51,576.39 L508.50,576.37 L510.50,576.36 L512.49,576.35 L514.49,576.34 L516.48,576.33 L518.48,576.32 L520.47,576.31 L522.47,576.30 L524.46,576.29 L526.46,576.28 L528.45,576.27 L530.45,576.25 L532.44,576.24 L534.44,576.22 L536.43,576.21 L538.43,576.19 L540.43,576.17 L542.42,576.16 L544.42,576.14 L546.41,576.11 L548.41,576.09 L550.40,576.07 L552.40,576.04 L554.39,576.01 L556.39,575.98 L558.38,575.95 L560.38,575.92 L562.37,575.88 L564.37,575.84 L566.36,575.80 L568.36,575.76 L570.35,575.71 L572.35,575.66 L574.34,575.61 L576.34,575.56 L578.33,575.50 L580.33,575.44 L582.32,575.38 L584.32,575.32 L586.31,575.25 L588.31,575.17 L590.30,575.10 L592.30,575.02 L594.29,574.94 L596.29,574.85 L598.28,574.76 L600.28,574.66" fill="none" stroke="#000" stroke-width="2.55" stroke-linejoin="round"/>
<path d="M110.80,706.40 L233.17,706.40 L239.16,702.83 L241.15,701.39 L243.15,699.94 L245.14,698.49 L247.14,697.04 L249.13,695.60 L251.13,694.16 L253.12,692.72 L255.12,691.28 L257.11,689.86 L259.11,688.43 L261.10,687.02 L263.10,685.62 L265.09,684.22 L267.09,682.84 L269.08,681.47 L271.08,680.11 L273.07,678.77 L275.07,677.45 L277.06,676.14 L279.06,674.84 L281.05,673.57 L283.05,672.32 L285.04,671.08 L287.04,669.87 L289.03,668.68 L291.03,667.52 L293.02,666.38 L295.02,665.27 L297.02,664.18 L299.01,663.13 L301.01,662.10 L303.00,661.10 L305.00,660.13 L306.99,659.20 L308.99,658.30 L310.98,657.44 L312.98,656.61 L314.97,655.81 L316.97,655.06 L318.96,654.34 L320.96,653.67 L322.95,653.03 L324.95,652.44 L326.94,651.89 L328.94,651.38 L330.93,650.92 L332.93,650.51 L334.92,650.14 L336.92,649.82 L338.91,649.56 L340.91,649.34 L342.90,649.17 L344.90,649.06 L346.89,649.00 L348.89,648.99 L350.88,649.04 L352.88,649.15 L354.87,649.31 L356.87,649.53 L358.87,649.81 L360.86,650.16 L362.86,650.56 L364.85,651.03 L366.85,651.56 L368.84,652.15 L370.84,652.81 L372.83,653.54 L374.83,654.34 L376.82,655.20 L378.82,656.13 L380.81,657.14 L382.81,658.22 L384.80,659.37 L386.80,660.58 L388.79,661.86 L390.79,663.20 L392.78,664.58 L394.78,666.02 L396.77,667.49 L398.77,668.99 L400.76,670.53 L402.76,672.09 L404.75,673.66 L406.75,675.25 L408.74,676.84 L410.74,678.44 L412.73,680.04 L414.73,681.63 L416.73,683.23 L418.72,684.82 L420.72,686.41 L422.71,688.00 L424.71,689.58 L426.70,691.15 L428.70,692.72 L430.69,694.28 L432.69,695.82 L434.68,697.36 L436.68,698.88 L438.67,700.39 L440.67,701.89 L442.66,703.37 L444.66,704.84 L446.65,706.29 L448.65,707.72 L450.64,709.13 L452.64,710.52 L454.63,711.89 L456.63,713.24 L458.62,714.57 L460.62,715.87 L462.61,717.15 L464.61,718.40 L466.60,719.63 L468.60,720.83 L470.59,722.00 L472.59,723.14 L474.58,724.25 L476.58,725.33 L478.58,726.37 L480.57,727.39 L482.57,728.37 L484.56,729.31 L486.56,730.22 L488.55,731.09 L490.55,731.92 L492.54,732.72 L494.54,733.47 L496.53,734.18 L498.53,734.86 L500.52,735.48 L502.52,736.07 L504.51,736.61 L506.51,737.10 L508.50,737.55 L510.50,737.95 L512.49,738.31 L514.49,738.62 L516.48,738.89 L518.48,739.12 L520.47,739.31 L522.47,739.47 L524.46,739.59 L526.46,739.68 L528.45,739.74 L530.45,739.77 L532.44,739.77 L534.44,739.75 L536.43,739.70 L538.43,739.63 L540.43,739.54 L542.42,739.42 L544.42,739.28 L546.41,739.12 L548.41,738.93 L550.40,738.73 L552.40,738.50 L554.39,738.25 L556.39,737.98 L558.38,737.69 L560.38,737.38 L562.37,737.04 L564.37,736.69 L566.36,736.32 L568.36,735.93 L570.35,735.51 L572.35,735.08 L574.34,734.63 L576.34,734.17 L578.33,733.68 L580.33,733.18 L582.32,732.65 L584.32,732.11 L586.31,731.56 L588.31,730.98 L590.30,730.39 L592.30,729.79 L594.29,729.16 L596.29,728.52 L598.28,727.87 L600.28,727.20 L600.28,774.67 L598.28,774.72 L596.29,774.81 L594.29,774.93 L592.30,775.10 L590.30,775.30 L588.31,775.53 L586.31,775.78 L584.32,776.07 L582.32,776.37 L580.33,776.70 L578.33,777.05 L576.34,777.41 L574.34,777.78 L572.35,778.16 L570.35,778.55 L568.36,778.95 L566.36,779.34 L564.37,779.74 L562.37,780.13 L560.38,780.51 L558.38,780.89 L556.39,781.25 L554.39,781.61 L552.40,781.94 L550.40,782.25 L548.41,782.54 L546.41,782.81 L544.42,783.05 L542.42,783.26 L540.43,783.43 L538.43,783.57 L536.43,783.67 L534.44,783.74 L532.44,783.75 L530.45,783.73 L528.45,783.65 L526.46,783.53 L524.46,783.36 L522.47,783.14 L520.47,782.87 L518.48,782.55 L516.48,782.18 L514.49,781.75 L512.49,781.27 L510.50,780.73 L508.50,780.13 L506.51,779.48 L504.51,778.77 L502.52,778.00 L500.52,777.18 L498.53,776.30 L496.53,775.37 L494.54,774.39 L492.54,773.37 L490.55,772.30 L488.55,771.18 L486.56,770.02 L484.56,768.82 L482.57,767.57 L480.57,766.29 L478.58,764.97 L476.58,763.62 L474.58,762.23 L472.59,760.81 L470.59,759.36 L468.60,757.88 L466.60,756.37 L464.61,754.84 L462.61,753.28 L460.62,751.70 L458.62,750.09 L456.63,748.47 L454.63,746.83 L452.64,745.18 L450.64,743.50 L448.65,741.82 L446.65,740.12 L444.66,738.42 L442.66,736.70 L440.67,734.98 L438.67,733.25 L436.68,731.52 L434.68,729.79 L432.69,728.05 L430.69,726.32 L428.70,724.59 L426.70,722.86 L424.71,721.14 L422.71,719.42 L420.72,717.71 L418.72,716.02 L416.73,714.33 L414.73,712.66 L412.73,710.99 L410.74,709.35 L408.74,707.72 L406.75,706.11 L404.75,704.52 L402.76,702.96 L400.76,701.43 L398.77,699.95 L396.77,698.51 L394.78,697.12 L392.78,695.79 L390.79,694.52 L388.79,693.32 L386.80,692.20 L384.80,691.16 L382.81,690.20 L380.81,689.34 L378.82,688.57 L376.82,687.88 L374.83,687.28 L372.83,686.76 L370.84,686.31 L368.84,685.95 L366.85,685.65 L364.85,685.43 L362.86,685.27 L360.86,685.18 L358.87,685.15 L356.87,685.17 L354.87,685.26 L352.88,685.39 L350.88,685.58 L348.89,685.81 L346.89,686.09 L344.90,686.41 L342.90,686.77 L340.91,687.17 L338.91,687.60 L336.92,688.06 L334.92,688.55 L332.93,689.07 L330.93,689.60 L328.94,690.16 L326.94,690.75 L324.95,691.35 L322.95,691.98 L320.96,692.62 L318.96,693.29 L316.97,693.98 L314.97,694.69 L312.98,695.43 L310.98,696.18 L308.99,696.95 L306.99,697.74 L305.00,698.55 L303.00,699.39 L301.01,700.24 L299.01,701.11 L297.02,702.00 L295.02,702.91 L293.02,703.84 L291.03,704.78 L289.03,705.75 L287.04,706.73 L285.04,707.73 L283.05,708.75 L281.05,709.79 L279.06,710.84 L277.06,711.91 L275.07,713.00 L273.07,714.10 L271.08,715.22 L269.08,716.36 L267.09,717.51 L265.09,718.68 L263.10,719.87 L261.10,721.07 L259.11,722.28 L257.11,723.51 L255.12,724.76 L253.12,726.02 L251.13,727.29 L249.13,728.58 L247.14,729.89 L245.14,731.20 L243.15,732.53 L241.15,733.88 L239.16,735.24 L233.17,740.40 L110.80,740.40 Z" fill="#E41A1C" fill-opacity="0.110" stroke="none" stroke-width="0.00" stroke-linejoin="round"/>
<path d="M110.80,723.40 L233.17,723.40 L235.17,721.85 L237.16,720.44 L239.16,719.03 L241.15,717.63 L243.15,716.24 L245.14,714.85 L247.14,713.47 L249.13,712.09 L251.13,710.73 L253.12,709.37 L255.12,708.02 L257.11,706.68 L259.11,705.36 L261.10,704.04 L263.10,702.74 L265.09,701.45 L267.09,700.18 L269.08,698.92 L271.08,697.67 L273.07,696.44 L275.07,695.22 L277.06,694.02 L279.06,692.84 L281.05,691.68 L283.05,690.53 L285.04,689.41 L287.04,688.30 L289.03,687.22 L291.03,686.15 L293.02,685.11 L295.02,684.09 L297.02,683.09 L299.01,682.12 L301.01,681.17 L303.00,680.24 L305.00,679.34 L306.99,678.47 L308.99,677.63 L310.98,676.81 L312.98,676.02 L314.97,675.25 L316.97,674.52 L318.96,673.82 L320.96,673.14 L322.95,672.50 L324.95,671.89 L326.94,671.32 L328.94,670.77 L330.93,670.26 L332.93,669.79 L334.92,669.35 L336.92,668.94 L338.91,668.58 L340.91,668.25 L342.90,667.97 L344.90,667.73 L346.89,667.54 L348.89,667.40 L350.88,667.31 L352.88,667.27 L354.87,667.28 L356.87,667.35 L358.87,667.48 L360.86,667.67 L362.86,667.91 L364.85,668.23 L366.85,668.60 L368.84,669.05 L370.84,669.56 L372.83,670.15 L374.83,670.81 L376.82,671.54 L378.82,672.35 L380.81,673.24 L382.81,674.21 L384.80,675.26 L386.80,676.39 L388.79,677.59 L390.79,678.86 L392.78,680.19 L394.78,681.57 L396.77,683.00 L398.77,684.47 L400.76,685.98 L402.76,687.52 L404.75,689.09 L406.75,690.68 L408.74,692.28 L410.74,693.89 L412.73,695.52 L414.73,697.14 L416.73,698.78 L418.72,700.42 L420.72,702.06 L422.71,703.71 L424.71,705.36 L426.70,707.01 L428.70,708.65 L430.69,710.30 L432.69,711.94 L434.68,713.57 L436.68,715.20 L438.67,716.82 L440.67,718.43 L442.66,720.04 L444.66,721.63 L446.65,723.20 L448.65,724.77 L450.64,726.32 L452.64,727.85 L454.63,729.36 L456.63,730.86 L458.62,732.33 L460.62,733.78 L462.61,735.21 L464.61,736.62 L466.60,738.00 L468.60,739.35 L470.59,740.68 L472.59,741.97 L474.58,743.24 L476.58,744.47 L478.58,745.67 L480.57,746.84 L482.57,747.97 L484.56,749.06 L486.56,750.12 L488.55,751.13 L490.55,752.11 L492.54,753.04 L494.54,753.93 L496.53,754.78 L498.53,755.58 L500.52,756.33 L502.52,757.03 L504.51,757.69 L506.51,758.29 L508.50,758.84 L510.50,759.34 L512.49,759.79 L514.49,760.19 L516.48,760.54 L518.48,760.84 L520.47,761.09 L522.47,761.31 L524.46,761.48 L526.46,761.61 L528.45,761.70 L530.45,761.75 L532.44,761.76 L534.44,761.74 L536.43,761.69 L538.43,761.60 L540.43,761.49 L542.42,761.34 L544.42,761.16 L546.41,760.96 L548.41,760.74 L550.40,760.49 L552.40,760.22 L554.39,759.93 L556.39,759.62 L558.38,759.29 L560.38,758.94 L562.37,758.59 L564.37,758.21 L566.36,757.83 L568.36,757.44 L570.35,757.03 L572.35,756.62 L574.34,756.21 L576.34,755.79 L578.33,755.36 L580.33,754.94 L582.32,754.51 L584.32,754.09 L586.31,753.67 L588.31,753.25 L590.30,752.84 L592.30,752.44 L594.29,752.05 L596.29,751.66 L598.28,751.29 L600.28,750.93" fill="none" stroke="#E41A1C" stroke-width="2.55" stroke-linejoin="round"/>
<path d="M110.80,660.62 L112.80,662.41 L114.80,664.18 L116.79,665.92 L118.79,667.65 L120.79,669.35 L122.79,671.03 L124.79,672.68 L126.78,674.32 L128.78,675.93 L130.78,677.52 L132.78,679.09 L134.77,680.63 L136.77,682.15 L138.77,683.65 L140.77,685.12 L142.77,686.57 L144.76,688.00 L146.76,689.40 L148.76,690.78 L150.76,692.14 L152.76,693.47 L154.75,694.78 L156.75,696.06 L158.75,697.32 L160.75,698.56 L162.74,699.77 L164.74,700.95 L166.74,702.11 L168.74,703.25 L170.74,704.36 L172.73,705.45 L174.73,706.51 L176.73,707.54 L178.73,708.55 L180.73,709.53 L182.72,710.49 L184.72,711.42 L186.72,712.32 L188.72,713.20 L190.72,714.05 L192.71,714.88 L194.71,715.67 L196.71,716.44 L198.71,717.18 L200.70,717.89 L202.70,718.57 L204.70,719.22 L206.70,719.85 L208.70,720.44 L210.69,721.00 L212.69,721.53 L214.69,722.03 L216.69,722.50 L218.69,722.94 L220.68,723.34 L222.68,723.71 L224.68,724.05 L226.68,724.36 L228.67,724.63 L230.67,724.87 L232.67,725.08 L234.67,725.25 L236.67,725.38 L238.66,725.49 L240.66,725.56 L242.66,725.59 L244.66,725.59 L246.66,725.56 L248.65,725.50 L250.65,725.41 L252.65,725.28 L254.65,725.13 L256.65,724.94 L258.64,724.72 L260.64,724.48 L262.64,724.20 L264.64,723.89 L266.63,723.56 L268.63,723.20 L270.63,722.80 L272.63,722.39 L274.63,721.94 L276.62,721.46 L278.62,720.96 L280.62,720.44 L282.62,719.88 L284.62,719.30 L286.61,718.70 L288.61,718.07 L290.61,717.42 L292.61,716.74 L294.60,716.04 L296.60,715.31 L298.60,714.56 L300.60,713.79 L302.60,713.00 L304.59,712.18 L306.59,711.34 L308.59,710.49 L310.59,709.61 L312.59,708.70 L314.58,707.78 L316.58,706.84 L318.58,705.88 L320.58,704.90 L322.58,703.90 L324.57,702.89 L326.57,701.85 L328.57,700.80 L330.57,699.73 L332.56,698.64 L334.56,697.54 L336.56,696.41 L338.56,695.28 L340.56,694.13 L342.55,692.96 L344.55,691.78 L346.55,690.58 L348.55,689.37 L350.55,688.14 L352.54,686.90 L354.54,685.65 L356.54,684.39 L358.54,683.11 L360.53,681.82 L362.53,680.52 L364.53,679.21 L366.53,677.89 L368.53,676.56 L370.52,675.22 L372.52,673.87 L374.52,672.52 L376.52,671.16 L378.52,669.80 L380.51,668.43 L382.51,667.05 L384.51,665.67 L386.51,664.29 L388.50,662.91 L390.50,661.53 L392.50,660.14 L394.50,658.76 L396.50,657.37 L398.49,655.99 L400.49,654.61 L402.49,653.23 L404.49,651.85 L406.49,650.48 L408.48,649.11 L410.48,647.75 L412.48,646.40 L414.48,645.05 L416.48,643.71 L418.47,642.38 L420.47,641.06 L422.47,639.75 L424.47,638.44 L426.46,637.15 L428.46,635.87 L430.46,634.61 L432.46,633.35 L434.46,632.11 L436.45,630.89 L438.45,629.68 L440.45,628.48 L442.45,627.31 L444.45,626.15 L446.44,625.01 L448.44,623.88 L450.44,622.78 L452.44,621.70 L454.43,620.64 L456.43,619.60 L458.43,618.58 L460.43,617.58 L462.43,616.61 L464.42,615.67 L466.42,614.75 L468.42,613.85 L470.42,612.98 L472.42,612.14 L474.41,611.33 L476.41,610.54 L478.41,609.78 L480.41,609.06 L482.41,608.36 L484.40,607.70 L486.40,607.07 L488.40,606.47 L490.40,605.89 L492.39,605.35 L494.39,604.84 L496.39,604.35 L498.39,603.89 L500.39,603.46 L502.38,603.06 L504.38,602.68 L506.38,602.32 L508.38,601.99 L510.38,601.69 L512.37,601.40 L514.37,601.14 L516.37,600.90 L518.37,600.69 L520.36,600.49 L522.36,600.31 L524.36,600.15 L526.36,600.02 L528.36,599.89 L530.35,599.79 L532.35,599.71 L534.35,599.64 L536.35,599.58 L538.35,599.54 L540.34,599.52 L542.34,599.51 L544.34,599.51 L546.34,599.53 L548.34,599.55 L550.33,599.59 L552.33,599.64 L554.33,599.70 L556.33,599.77 L558.32,599.85 L560.32,599.93 L562.32,600.02 L564.32,600.12 L566.32,600.23 L568.31,600.34 L570.31,600.46 L572.31,600.58 L574.31,600.71 L576.31,600.84 L578.30,600.97 L580.30,601.10 L582.30,601.24 L584.30,601.38 L586.29,601.51 L588.29,601.65 L590.29,601.78 L592.29,601.92 L594.29,602.05 L596.28,602.17 L598.28,602.30 L600.28,602.42 L600.28,643.85 L598.28,643.40 L596.28,642.96 L594.29,642.53 L592.29,642.10 L590.29,641.69 L588.29,641.28 L586.29,640.88 L584.30,640.49 L582.30,640.10 L580.30,639.73 L578.30,639.37 L576.31,639.02 L574.31,638.67 L572.31,638.35 L570.31,638.03 L568.31,637.72 L566.32,637.43 L564.32,637.14 L562.32,636.88 L560.32,636.62 L558.32,636.38 L556.33,636.15 L554.33,635.94 L552.33,635.74 L550.33,635.56 L548.34,635.39 L546.34,635.24 L544.34,635.11 L542.34,634.99 L540.34,634.88 L538.35,634.80 L536.35,634.73 L534.35,634.69 L532.35,634.66 L530.35,634.64 L528.36,634.65 L526.36,634.68 L524.36,634.73 L522.36,634.79 L520.36,634.88 L518.37,634.99 L516.37,635.12 L514.37,635.27 L512.37,635.45 L510.38,635.64 L508.38,635.86 L506.38,636.10 L504.38,636.37 L502.38,636.66 L500.39,636.97 L498.39,637.31 L496.39,637.67 L494.39,638.06 L492.39,638.48 L490.40,638.91 L488.40,639.38 L486.40,639.87 L484.40,640.39 L482.41,640.94 L480.41,641.52 L478.41,642.12 L476.41,642.75 L474.41,643.40 L472.42,644.08 L470.42,644.79 L468.42,645.52 L466.42,646.27 L464.42,647.05 L462.43,647.86 L460.43,648.68 L458.43,649.53 L456.43,650.40 L454.43,651.29 L452.44,652.21 L450.44,653.14 L448.44,654.10 L446.44,655.07 L444.45,656.07 L442.45,657.08 L440.45,658.11 L438.45,659.16 L436.45,660.23 L434.46,661.32 L432.46,662.42 L430.46,663.54 L428.46,664.67 L426.46,665.83 L424.47,666.99 L422.47,668.17 L420.47,669.37 L418.47,670.57 L416.48,671.80 L414.48,673.03 L412.48,674.28 L410.48,675.54 L408.48,676.81 L406.49,678.09 L404.49,679.38 L402.49,680.68 L400.49,681.99 L398.49,683.32 L396.50,684.65 L394.50,685.98 L392.50,687.33 L390.50,688.69 L388.50,690.05 L386.51,691.41 L384.51,692.79 L382.51,694.17 L380.51,695.55 L378.52,696.94 L376.52,698.34 L374.52,699.74 L372.52,701.14 L370.52,702.54 L368.53,703.95 L366.53,705.36 L364.53,706.77 L362.53,708.19 L360.53,709.60 L358.54,711.01 L356.54,712.43 L354.54,713.84 L352.54,715.25 L350.55,716.66 L348.55,718.07 L346.55,719.47 L344.55,720.87 L342.55,722.26 L340.56,723.65 L338.56,725.03 L336.56,726.40 L334.56,727.76 L332.56,729.11 L330.57,730.45 L328.57,731.78 L326.57,733.09 L324.57,734.40 L322.58,735.69 L320.58,736.96 L318.58,738.22 L316.58,739.47 L314.58,740.69 L312.59,741.90 L310.59,743.09 L308.59,744.26 L306.59,745.41 L304.59,746.54 L302.60,747.65 L300.60,748.73 L298.60,749.79 L296.60,750.83 L294.60,751.84 L292.61,752.82 L290.61,753.78 L288.61,754.71 L286.61,755.61 L284.62,756.48 L282.62,757.32 L280.62,758.13 L278.62,758.91 L276.62,759.65 L274.63,760.36 L272.63,761.04 L270.63,761.68 L268.63,762.29 L266.63,762.86 L264.64,763.39 L262.64,763.88 L260.64,764.33 L258.64,764.75 L256.65,765.12 L254.65,765.45 L252.65,765.74 L250.65,765.98 L248.65,766.18 L246.66,766.34 L244.66,766.45 L242.66,766.51 L240.66,766.53 L238.66,766.50 L236.67,766.41 L234.67,766.28 L232.67,766.10 L230.67,765.87 L228.67,765.58 L226.68,765.25 L224.68,764.87 L222.68,764.45 L220.68,763.98 L218.69,763.46 L216.69,762.90 L214.69,762.31 L212.69,761.67 L210.69,760.99 L208.70,760.27 L206.70,759.52 L204.70,758.73 L202.70,757.91 L200.70,757.06 L198.71,756.17 L196.71,755.26 L194.71,754.31 L192.71,753.34 L190.72,752.34 L188.72,751.32 L186.72,750.27 L184.72,749.19 L182.72,748.10 L180.73,746.98 L178.73,745.85 L176.73,744.70 L174.73,743.53 L172.73,742.34 L170.74,741.14 L168.74,739.92 L166.74,738.69 L164.74,737.45 L162.74,736.19 L160.75,734.93 L158.75,733.65 L156.75,732.37 L154.75,731.08 L152.76,729.78 L150.76,728.48 L148.76,727.17 L146.76,725.86 L144.76,724.54 L142.77,723.23 L140.77,721.91 L138.77,720.60 L136.77,719.29 L134.77,717.98 L132.78,716.67 L130.78,715.37 L128.78,714.07 L126.78,712.78 L124.79,711.50 L122.79,710.22 L120.79,708.96 L118.79,707.71 L116.79,706.46 L114.80,705.23 L112.80,704.02 L110.80,702.82 Z" fill="#377EB8" fill-opacity="0.110" stroke="none" stroke-width="0.00" stroke-linejoin="round"/>
<path d="M110.80,681.72 L112.80,683.21 L114.80,684.71 L116.79,686.19 L118.79,687.68 L120.79,689.15 L122.79,690.62 L124.79,692.09 L126.78,693.55 L128.78,695.00 L130.78,696.44 L132.78,697.88 L134.77,699.30 L136.77,700.72 L138.77,702.12 L140.77,703.52 L142.77,704.90 L144.76,706.27 L146.76,707.63 L148.76,708.98 L150.76,710.31 L152.76,711.63 L154.75,712.93 L156.75,714.22 L158.75,715.49 L160.75,716.74 L162.74,717.98 L164.74,719.20 L166.74,720.40 L168.74,721.58 L170.74,722.75 L172.73,723.89 L174.73,725.02 L176.73,726.12 L178.73,727.20 L180.73,728.26 L182.72,729.29 L184.72,730.31 L186.72,731.29 L188.72,732.26 L190.72,733.20 L192.71,734.11 L194.71,734.99 L196.71,735.85 L198.71,736.68 L200.70,737.47 L202.70,738.24 L204.70,738.98 L206.70,739.68 L208.70,740.36 L210.69,740.99 L212.69,741.60 L214.69,742.17 L216.69,742.70 L218.69,743.20 L220.68,743.66 L222.68,744.08 L224.68,744.46 L226.68,744.81 L228.67,745.11 L230.67,745.37 L232.67,745.59 L234.67,745.77 L236.67,745.90 L238.66,745.99 L240.66,746.04 L242.66,746.05 L244.66,746.02 L246.66,745.95 L248.65,745.84 L250.65,745.70 L252.65,745.51 L254.65,745.29 L256.65,745.03 L258.64,744.74 L260.64,744.41 L262.64,744.04 L264.64,743.64 L266.63,743.21 L268.63,742.74 L270.63,742.24 L272.63,741.71 L274.63,741.15 L276.62,740.56 L278.62,739.93 L280.62,739.28 L282.62,738.60 L284.62,737.89 L286.61,737.15 L288.61,736.39 L290.61,735.60 L292.61,734.78 L294.60,733.94 L296.60,733.07 L298.60,732.18 L300.60,731.26 L302.60,730.32 L304.59,729.36 L306.59,728.38 L308.59,727.37 L310.59,726.35 L312.59,725.30 L314.58,724.24 L316.58,723.16 L318.58,722.05 L320.58,720.93 L322.58,719.80 L324.57,718.64 L326.57,717.47 L328.57,716.29 L330.57,715.09 L332.56,713.87 L334.56,712.65 L336.56,711.41 L338.56,710.15 L340.56,708.89 L342.55,707.61 L344.55,706.32 L346.55,705.03 L348.55,703.72 L350.55,702.40 L352.54,701.08 L354.54,699.75 L356.54,698.41 L358.54,697.06 L360.53,695.71 L362.53,694.35 L364.53,692.99 L366.53,691.63 L368.53,690.26 L370.52,688.88 L372.52,687.51 L374.52,686.13 L376.52,684.75 L378.52,683.37 L380.51,681.99 L382.51,680.61 L384.51,679.23 L386.51,677.85 L388.50,676.48 L390.50,675.11 L392.50,673.74 L394.50,672.37 L396.50,671.01 L398.49,669.65 L400.49,668.30 L402.49,666.95 L404.49,665.62 L406.49,664.28 L408.48,662.96 L410.48,661.64 L412.48,660.34 L414.48,659.04 L416.48,657.75 L418.47,656.48 L420.47,655.21 L422.47,653.96 L424.47,652.72 L426.46,651.49 L428.46,650.27 L430.46,649.07 L432.46,647.89 L434.46,646.72 L436.45,645.56 L438.45,644.42 L440.45,643.30 L442.45,642.19 L444.45,641.11 L446.44,640.04 L448.44,638.99 L450.44,637.96 L452.44,636.95 L454.43,635.97 L456.43,635.00 L458.43,634.06 L460.43,633.13 L462.43,632.24 L464.42,631.36 L466.42,630.51 L468.42,629.68 L470.42,628.88 L472.42,628.11 L474.41,627.36 L476.41,626.64 L478.41,625.95 L480.41,625.29 L482.41,624.65 L484.40,624.05 L486.40,623.47 L488.40,622.92 L490.40,622.40 L492.39,621.91 L494.39,621.45 L496.39,621.01 L498.39,620.60 L500.39,620.22 L502.38,619.86 L504.38,619.52 L506.38,619.21 L508.38,618.93 L510.38,618.66 L512.37,618.42 L514.37,618.21 L516.37,618.01 L518.37,617.84 L520.36,617.68 L522.36,617.55 L524.36,617.44 L526.36,617.35 L528.36,617.27 L530.35,617.22 L532.35,617.18 L534.35,617.16 L536.35,617.16 L538.35,617.17 L540.34,617.20 L542.34,617.25 L544.34,617.31 L546.34,617.38 L548.34,617.47 L550.33,617.57 L552.33,617.69 L554.33,617.82 L556.33,617.96 L558.32,618.11 L560.32,618.28 L562.32,618.45 L564.32,618.63 L566.32,618.83 L568.31,619.03 L570.31,619.24 L572.31,619.46 L574.31,619.69 L576.31,619.93 L578.30,620.17 L580.30,620.42 L582.30,620.67 L584.30,620.93 L586.29,621.19 L588.29,621.46 L590.29,621.74 L592.29,622.01 L594.29,622.29 L596.28,622.57 L598.28,622.85 L600.28,623.14" fill="none" stroke="#377EB8" stroke-width="2.55" stroke-linejoin="round"/>
<rect x="110.80" y="833.00" width="244.74" height="14.70" fill="#CCCCCC"/>
<text transform="translate(174.94,830.60) scale(0.9562,1)" font-size="22.20" fill="#7F7F7F">excess–light</text>
<circle cx="110.80" cy="601.50" r="4.20" fill="#000"/>
<circle cx="110.80" cy="608.10" r="4.20" fill="#000"/>
<circle cx="110.80" cy="619.80" r="4.20" fill="#000"/>
<circle cx="233.17" cy="625.10" r="4.20" fill="#000"/>
<circle cx="233.17" cy="640.20" r="4.20" fill="#000"/>
<circle cx="233.17" cy="645.20" r="4.20" fill="#000"/>
<circle cx="355.54" cy="574.80" r="4.20" fill="#000"/>
<circle cx="355.54" cy="578.70" r="4.20" fill="#000"/>
<circle cx="355.54" cy="601.10" r="4.20" fill="#000"/>
<circle cx="386.13" cy="560.50" r="4.20" fill="#000"/>
<circle cx="386.13" cy="572.60" r="4.20" fill="#000"/>
<circle cx="386.13" cy="599.00" r="4.20" fill="#000"/>
<circle cx="416.72" cy="570.10" r="4.20" fill="#000"/>
<circle cx="416.72" cy="575.20" r="4.20" fill="#000"/>
<circle cx="416.72" cy="598.70" r="4.20" fill="#000"/>
<circle cx="477.91" cy="570.50" r="4.20" fill="#000"/>
<circle cx="477.91" cy="571.00" r="4.20" fill="#000"/>
<circle cx="477.91" cy="585.00" r="4.20" fill="#000"/>
<circle cx="600.28" cy="564.50" r="4.20" fill="#000"/>
<circle cx="600.28" cy="584.60" r="4.20" fill="#000"/>
<circle cx="600.28" cy="593.90" r="4.20" fill="#000"/>
<circle cx="110.80" cy="726.70" r="4.20" fill="#E41A1C"/>
<circle cx="110.80" cy="746.10" r="4.20" fill="#E41A1C"/>
<circle cx="110.80" cy="764.30" r="4.20" fill="#E41A1C"/>
<circle cx="233.17" cy="696.40" r="4.20" fill="#E41A1C"/>
<circle cx="233.17" cy="705.90" r="4.20" fill="#E41A1C"/>
<circle cx="233.17" cy="723.60" r="4.20" fill="#E41A1C"/>
<circle cx="355.54" cy="638.30" r="4.20" fill="#E41A1C"/>
<circle cx="355.54" cy="664.50" r="4.20" fill="#E41A1C"/>
<circle cx="355.54" cy="709.20" r="4.20" fill="#E41A1C"/>
<circle cx="386.13" cy="616.40" r="4.20" fill="#E41A1C"/>
<circle cx="386.13" cy="678.10" r="4.20" fill="#E41A1C"/>
<circle cx="386.13" cy="693.40" r="4.20" fill="#E41A1C"/>
<circle cx="416.72" cy="676.40" r="4.20" fill="#E41A1C"/>
<circle cx="416.72" cy="691.80" r="4.20" fill="#E41A1C"/>
<circle cx="416.72" cy="758.90" r="4.20" fill="#E41A1C"/>
<circle cx="477.91" cy="749.10" r="4.20" fill="#E41A1C"/>
<circle cx="477.91" cy="770.70" r="4.20" fill="#E41A1C"/>
<circle cx="477.91" cy="777.60" r="4.20" fill="#E41A1C"/>
<circle cx="600.28" cy="711.30" r="4.20" fill="#E41A1C"/>
<circle cx="600.28" cy="746.40" r="4.20" fill="#E41A1C"/>
<circle cx="600.28" cy="792.90" r="4.20" fill="#E41A1C"/>
<circle cx="110.80" cy="662.40" r="4.20" fill="#377EB8"/>
<circle cx="110.80" cy="670.50" r="4.20" fill="#377EB8"/>
<circle cx="110.80" cy="690.00" r="4.20" fill="#377EB8"/>
<circle cx="233.17" cy="750.50" r="4.20" fill="#377EB8"/>
<circle cx="233.17" cy="762.00" r="4.20" fill="#377EB8"/>
<circle cx="233.17" cy="776.10" r="4.20" fill="#377EB8"/>
<circle cx="355.54" cy="684.90" r="4.20" fill="#377EB8"/>
<circle cx="355.54" cy="685.50" r="4.20" fill="#377EB8"/>
<circle cx="355.54" cy="709.60" r="4.20" fill="#377EB8"/>
<circle cx="386.13" cy="647.70" r="4.20" fill="#377EB8"/>
<circle cx="386.13" cy="710.10" r="4.20" fill="#377EB8"/>
<circle cx="386.13" cy="716.90" r="4.20" fill="#377EB8"/>
<circle cx="416.72" cy="651.50" r="4.20" fill="#377EB8"/>
<circle cx="416.72" cy="655.00" r="4.20" fill="#377EB8"/>
<circle cx="477.91" cy="605.10" r="4.20" fill="#377EB8"/>
<circle cx="477.91" cy="613.20" r="4.20" fill="#377EB8"/>
<circle cx="477.91" cy="626.70" r="4.20" fill="#377EB8"/>
<circle cx="600.28" cy="622.00" r="4.20" fill="#377EB8"/>
<circle cx="600.28" cy="631.30" r="4.20" fill="#377EB8"/>
<circle cx="600.28" cy="632.60" r="4.20" fill="#377EB8"/>
<line x1="110.80" y1="710.50" x2="110.80" y2="745.00" stroke="#E41A1C" stroke-opacity="0.33" stroke-width="2.70"/>
<line x1="110.80" y1="728.00" x2="110.80" y2="775.00" stroke="#E41A1C" stroke-opacity="0.33" stroke-width="2.70"/>
<line x1="110.80" y1="745.00" x2="110.80" y2="793.50" stroke="#E41A1C" stroke-opacity="0.33" stroke-width="2.70"/>
<line x1="233.17" y1="679.70" x2="233.17" y2="718.00" stroke="#E41A1C" stroke-opacity="0.33" stroke-width="2.70"/>
<line x1="233.17" y1="688.00" x2="233.17" y2="730.00" stroke="#E41A1C" stroke-opacity="0.33" stroke-width="2.70"/>
<line x1="233.17" y1="706.00" x2="233.17" y2="741.00" stroke="#E41A1C" stroke-opacity="0.33" stroke-width="2.70"/>
<line x1="355.54" y1="623.00" x2="355.54" y2="655.00" stroke="#E41A1C" stroke-opacity="0.33" stroke-width="2.70"/>
<line x1="355.54" y1="650.00" x2="355.54" y2="684.00" stroke="#E41A1C" stroke-opacity="0.33" stroke-width="2.70"/>
<line x1="355.54" y1="692.00" x2="355.54" y2="718.50" stroke="#E41A1C" stroke-opacity="0.33" stroke-width="2.70"/>
<line x1="386.13" y1="608.80" x2="386.13" y2="631.80" stroke="#E41A1C" stroke-opacity="0.33" stroke-width="2.70"/>
<line x1="386.13" y1="665.00" x2="386.13" y2="700.00" stroke="#E41A1C" stroke-opacity="0.33" stroke-width="2.70"/>
<line x1="386.13" y1="680.00" x2="386.13" y2="712.00" stroke="#E41A1C" stroke-opacity="0.33" stroke-width="2.70"/>
<line x1="416.72" y1="668.40" x2="416.72" y2="690.00" stroke="#E41A1C" stroke-opacity="0.33" stroke-width="2.70"/>
<line x1="416.72" y1="680.00" x2="416.72" y2="709.70" stroke="#E41A1C" stroke-opacity="0.33" stroke-width="2.70"/>
<line x1="416.72" y1="734.40" x2="416.72" y2="791.20" stroke="#E41A1C" stroke-opacity="0.33" stroke-width="2.70"/>
<line x1="477.91" y1="729.00" x2="477.91" y2="770.00" stroke="#E41A1C" stroke-opacity="0.33" stroke-width="2.70"/>
<line x1="477.91" y1="750.00" x2="477.91" y2="795.00" stroke="#E41A1C" stroke-opacity="0.33" stroke-width="2.70"/>
<line x1="477.91" y1="755.00" x2="477.91" y2="806.00" stroke="#E41A1C" stroke-opacity="0.33" stroke-width="2.70"/>
<line x1="600.28" y1="693.70" x2="600.28" y2="730.00" stroke="#E41A1C" stroke-opacity="0.33" stroke-width="2.70"/>
<line x1="600.28" y1="728.00" x2="600.28" y2="768.00" stroke="#E41A1C" stroke-opacity="0.33" stroke-width="2.70"/>
<line x1="600.28" y1="765.00" x2="600.28" y2="824.60" stroke="#E41A1C" stroke-opacity="0.33" stroke-width="2.70"/>
<line x1="110.80" y1="650.30" x2="110.80" y2="678.00" stroke="#377EB8" stroke-opacity="0.33" stroke-width="2.70"/>
<line x1="110.80" y1="657.00" x2="110.80" y2="690.00" stroke="#377EB8" stroke-opacity="0.33" stroke-width="2.70"/>
<line x1="110.80" y1="675.00" x2="110.80" y2="705.60" stroke="#377EB8" stroke-opacity="0.33" stroke-width="2.70"/>
<line x1="233.17" y1="735.70" x2="233.17" y2="770.00" stroke="#377EB8" stroke-opacity="0.33" stroke-width="2.70"/>
<line x1="233.17" y1="745.00" x2="233.17" y2="785.00" stroke="#377EB8" stroke-opacity="0.33" stroke-width="2.70"/>
<line x1="233.17" y1="759.00" x2="233.17" y2="802.80" stroke="#377EB8" stroke-opacity="0.33" stroke-width="2.70"/>
<line x1="355.54" y1="672.00" x2="355.54" y2="705.00" stroke="#377EB8" stroke-opacity="0.33" stroke-width="2.70"/>
<line x1="355.54" y1="672.00" x2="355.54" y2="706.00" stroke="#377EB8" stroke-opacity="0.33" stroke-width="2.70"/>
<line x1="355.54" y1="695.00" x2="355.54" y2="738.80" stroke="#377EB8" stroke-opacity="0.33" stroke-width="2.70"/>
<line x1="386.13" y1="634.50" x2="386.13" y2="661.00" stroke="#377EB8" stroke-opacity="0.33" stroke-width="2.70"/>
<line x1="386.13" y1="698.00" x2="386.13" y2="730.00" stroke="#377EB8" stroke-opacity="0.33" stroke-width="2.70"/>
<line x1="386.13" y1="703.00" x2="386.13" y2="736.10" stroke="#377EB8" stroke-opacity="0.33" stroke-width="2.70"/>
<line x1="416.72" y1="636.40" x2="416.72" y2="666.30" stroke="#377EB8" stroke-opacity="0.33" stroke-width="2.70"/>
<line x1="416.72" y1="640.00" x2="416.72" y2="668.00" stroke="#377EB8" stroke-opacity="0.33" stroke-width="2.70"/>
<line x1="477.91" y1="595.90" x2="477.91" y2="617.00" stroke="#377EB8" stroke-opacity="0.33" stroke-width="2.70"/>
<line x1="477.91" y1="601.00" x2="477.91" y2="628.00" stroke="#377EB8" stroke-opacity="0.33" stroke-width="2.70"/>
<line x1="477.91" y1="614.00" x2="477.91" y2="637.00" stroke="#377EB8" stroke-opacity="0.33" stroke-width="2.70"/>
<line x1="600.28" y1="611.00" x2="600.28" y2="634.00" stroke="#377EB8" stroke-opacity="0.33" stroke-width="2.70"/>
<line x1="600.28" y1="618.00" x2="600.28" y2="643.00" stroke="#377EB8" stroke-opacity="0.33" stroke-width="2.70"/>
<line x1="600.28" y1="620.00" x2="600.28" y2="645.70" stroke="#377EB8" stroke-opacity="0.33" stroke-width="2.70"/>
<path d="M86.50,546.50 L86.50,854.20 L624.90,854.20" fill="none" stroke="#000" stroke-width="2.3" stroke-linejoin="round"/>
<line x1="110.80" y1="854.20" x2="110.80" y2="860.50" stroke="#333" stroke-width="2.3"/>
<text transform="translate(104.88,881.20) scale(0.9550,1)" font-size="22.20" fill="#4D4D4D">0</text>
<line x1="233.17" y1="854.20" x2="233.17" y2="860.50" stroke="#333" stroke-width="2.3"/>
<text transform="translate(221.38,881.20) scale(0.9550,1)" font-size="22.20" fill="#4D4D4D">30</text>
<line x1="355.54" y1="854.20" x2="355.54" y2="860.50" stroke="#333" stroke-width="2.3"/>
<text transform="translate(343.65,881.20) scale(0.9550,1)" font-size="22.20" fill="#4D4D4D">60</text>
<line x1="386.13" y1="854.20" x2="386.13" y2="860.50" stroke="#333" stroke-width="2.3"/>
<line x1="416.72" y1="854.20" x2="416.72" y2="860.50" stroke="#333" stroke-width="2.3"/>
<text transform="translate(404.88,881.20) scale(0.9550,1)" font-size="22.20" fill="#4D4D4D">75</text>
<line x1="477.91" y1="854.20" x2="477.91" y2="860.50" stroke="#333" stroke-width="2.3"/>
<text transform="translate(466.07,881.20) scale(0.9550,1)" font-size="22.20" fill="#4D4D4D">90</text>
<line x1="600.28" y1="854.20" x2="600.28" y2="860.50" stroke="#333" stroke-width="2.3"/>
<text transform="translate(582.18,881.20) scale(0.9550,1)" font-size="22.20" fill="#4D4D4D">120</text>
<line x1="80.20" y1="553.80" x2="86.50" y2="553.80" stroke="#333" stroke-width="2.3"/>
<text transform="translate(45.55,561.90) scale(0.9550,1)" font-size="22.20" fill="#4D4D4D">6.5</text>
<line x1="80.20" y1="622.20" x2="86.50" y2="622.20" stroke="#333" stroke-width="2.3"/>
<text transform="translate(45.45,630.30) scale(0.9550,1)" font-size="22.20" fill="#4D4D4D">6.0</text>
<line x1="80.20" y1="690.10" x2="86.50" y2="690.10" stroke="#333" stroke-width="2.3"/>
<text transform="translate(45.55,698.20) scale(0.9550,1)" font-size="22.20" fill="#4D4D4D">5.5</text>
<line x1="80.20" y1="758.10" x2="86.50" y2="758.10" stroke="#333" stroke-width="2.3"/>
<text transform="translate(45.45,766.20) scale(0.9550,1)" font-size="22.20" fill="#4D4D4D">5.0</text>
<line x1="80.20" y1="826.00" x2="86.50" y2="826.00" stroke="#333" stroke-width="2.3"/>
<text transform="translate(45.55,834.10) scale(0.9550,1)" font-size="22.20" fill="#4D4D4D">4.5</text>
<text transform="translate(331.15,911.10) scale(1.0000,1)" font-size="26.40" fill="#000">time</text>
<text transform="translate(33.70,782.90) rotate(-90)" font-size="26.4" fill="#000">logged counts</text>
<path d="M838.80,585.97 L840.80,585.08 L842.80,584.20 L844.79,583.34 L846.79,582.50 L848.79,581.66 L850.79,580.85 L852.79,580.05 L854.78,579.26 L856.78,578.49 L858.78,577.73 L860.78,576.99 L862.77,576.27 L864.77,575.56 L866.77,574.87 L868.77,574.19 L870.77,573.53 L872.76,572.89 L874.76,572.26 L876.76,571.65 L878.76,571.05 L880.76,570.48 L882.75,569.92 L884.75,569.37 L886.75,568.85 L888.75,568.34 L890.74,567.85 L892.74,567.37 L894.74,566.92 L896.74,566.48 L898.74,566.06 L900.73,565.66 L902.73,565.27 L904.73,564.91 L906.73,564.56 L908.73,564.23 L910.72,563.92 L912.72,563.63 L914.72,563.35 L916.72,563.10 L918.72,562.87 L920.71,562.65 L922.71,562.45 L924.71,562.28 L926.71,562.12 L928.70,561.98 L930.70,561.87 L932.70,561.77 L934.70,561.69 L936.70,561.64 L938.69,561.60 L940.69,561.58 L942.69,561.59 L944.69,561.61 L946.69,561.66 L948.68,561.72 L950.68,561.81 L952.68,561.92 L954.68,562.05 L956.67,562.20 L958.67,562.38 L960.67,562.57 L962.67,562.79 L964.67,563.03 L966.66,563.29 L968.66,563.56 L970.66,563.86 L972.66,564.18 L974.66,564.52 L976.65,564.87 L978.65,565.25 L980.65,565.64 L982.65,566.04 L984.65,566.46 L986.64,566.90 L988.64,567.35 L990.64,567.82 L992.64,568.30 L994.63,568.79 L996.63,569.30 L998.63,569.82 L1000.63,570.35 L1002.63,570.89 L1004.62,571.44 L1006.62,572.00 L1008.62,572.58 L1010.62,573.16 L1012.62,573.74 L1014.61,574.34 L1016.61,574.95 L1018.61,575.56 L1020.61,576.17 L1022.60,576.80 L1024.60,577.42 L1026.60,578.06 L1028.60,578.69 L1030.60,579.33 L1032.59,579.98 L1034.59,580.62 L1036.59,581.27 L1038.59,581.92 L1040.59,582.57 L1042.58,583.22 L1044.58,583.87 L1046.58,584.52 L1048.58,585.17 L1050.58,585.81 L1052.57,586.46 L1054.57,587.10 L1056.57,587.73 L1058.57,588.37 L1060.56,589.00 L1062.56,589.62 L1064.56,590.24 L1066.56,590.85 L1068.56,591.46 L1070.55,592.05 L1072.55,592.64 L1074.55,593.23 L1076.55,593.80 L1078.55,594.37 L1080.54,594.92 L1082.54,595.47 L1084.54,596.01 L1086.54,596.53 L1088.53,597.05 L1090.53,597.55 L1092.53,598.04 L1094.53,598.52 L1096.53,598.98 L1098.52,599.44 L1100.52,599.88 L1102.52,600.30 L1104.52,600.71 L1106.52,601.11 L1108.51,601.49 L1110.51,601.85 L1112.51,602.20 L1114.51,602.53 L1116.50,602.84 L1118.50,603.14 L1120.50,603.41 L1122.50,603.67 L1124.50,603.92 L1126.49,604.14 L1128.49,604.35 L1130.49,604.54 L1132.49,604.71 L1134.49,604.86 L1136.48,605.00 L1138.48,605.12 L1140.48,605.23 L1142.48,605.32 L1144.48,605.39 L1146.47,605.45 L1148.47,605.49 L1150.47,605.51 L1152.47,605.52 L1154.46,605.52 L1156.46,605.49 L1158.46,605.46 L1160.46,605.41 L1162.46,605.34 L1164.45,605.26 L1166.45,605.17 L1168.45,605.06 L1170.45,604.93 L1172.45,604.80 L1174.44,604.65 L1176.44,604.48 L1178.44,604.31 L1180.44,604.12 L1182.43,603.92 L1184.43,603.70 L1186.43,603.48 L1188.43,603.24 L1190.43,603.00 L1192.42,602.74 L1194.42,602.48 L1196.42,602.20 L1198.42,601.91 L1200.42,601.62 L1202.41,601.32 L1204.41,601.01 L1206.41,600.69 L1208.41,600.36 L1210.41,600.03 L1212.40,599.69 L1214.40,599.34 L1216.40,598.99 L1218.40,598.63 L1220.39,598.27 L1222.39,597.90 L1224.39,597.53 L1226.39,597.15 L1228.39,596.77 L1230.38,596.39 L1232.38,596.00 L1234.38,595.61 L1236.38,595.22 L1238.38,594.82 L1240.37,594.43 L1242.37,594.03 L1244.37,593.63 L1246.37,593.23 L1248.36,592.83 L1250.36,592.44 L1252.36,592.04 L1254.36,591.64 L1256.36,591.24 L1258.35,590.85 L1260.35,590.46 L1262.35,590.07 L1264.35,589.68 L1266.35,589.30 L1268.34,588.92 L1270.34,588.54 L1272.34,588.17 L1274.34,587.80 L1276.34,587.43 L1278.33,587.08 L1280.33,586.72 L1282.33,586.38 L1284.33,586.04 L1286.32,585.70 L1288.32,585.38 L1290.32,585.06 L1292.32,584.75 L1294.32,584.44 L1296.31,584.15 L1298.31,583.86 L1300.31,583.58 L1302.31,583.32 L1304.31,583.06 L1306.30,582.81 L1308.30,582.58 L1310.30,582.35 L1312.30,582.14 L1314.29,581.94 L1316.29,581.75 L1318.29,581.57 L1320.29,581.41 L1322.29,581.25 L1324.28,581.12 L1326.28,580.99 L1328.28,580.88 L1328.28,600.91 L1326.28,600.84 L1324.28,600.79 L1322.29,600.75 L1320.29,600.73 L1318.29,600.72 L1316.29,600.74 L1314.29,600.76 L1312.30,600.81 L1310.30,600.86 L1308.30,600.93 L1306.30,601.02 L1304.31,601.12 L1302.31,601.23 L1300.31,601.35 L1298.31,601.49 L1296.31,601.64 L1294.32,601.80 L1292.32,601.97 L1290.32,602.15 L1288.32,602.35 L1286.32,602.55 L1284.33,602.76 L1282.33,602.98 L1280.33,603.21 L1278.33,603.45 L1276.34,603.70 L1274.34,603.96 L1272.34,604.22 L1270.34,604.49 L1268.34,604.77 L1266.35,605.05 L1264.35,605.34 L1262.35,605.63 L1260.35,605.93 L1258.35,606.24 L1256.36,606.54 L1254.36,606.86 L1252.36,607.17 L1250.36,607.49 L1248.36,607.81 L1246.37,608.14 L1244.37,608.46 L1242.37,608.79 L1240.37,609.12 L1238.38,609.45 L1236.38,609.78 L1234.38,610.11 L1232.38,610.44 L1230.38,610.77 L1228.39,611.10 L1226.39,611.43 L1224.39,611.76 L1222.39,612.08 L1220.39,612.40 L1218.40,612.72 L1216.40,613.03 L1214.40,613.34 L1212.40,613.65 L1210.41,613.95 L1208.41,614.25 L1206.41,614.54 L1204.41,614.83 L1202.41,615.11 L1200.42,615.38 L1198.42,615.65 L1196.42,615.91 L1194.42,616.16 L1192.42,616.41 L1190.43,616.64 L1188.43,616.87 L1186.43,617.09 L1184.43,617.30 L1182.43,617.50 L1180.44,617.69 L1178.44,617.87 L1176.44,618.03 L1174.44,618.19 L1172.45,618.33 L1170.45,618.47 L1168.45,618.59 L1166.45,618.69 L1164.45,618.79 L1162.46,618.87 L1160.46,618.94 L1158.46,618.99 L1156.46,619.03 L1154.46,619.06 L1152.47,619.07 L1150.47,619.07 L1148.47,619.06 L1146.47,619.03 L1144.48,618.98 L1142.48,618.92 L1140.48,618.85 L1138.48,618.76 L1136.48,618.66 L1134.49,618.54 L1132.49,618.40 L1130.49,618.25 L1128.49,618.08 L1126.49,617.90 L1124.50,617.69 L1122.50,617.48 L1120.50,617.24 L1118.50,616.99 L1116.50,616.72 L1114.51,616.43 L1112.51,616.13 L1110.51,615.81 L1108.51,615.48 L1106.52,615.13 L1104.52,614.77 L1102.52,614.39 L1100.52,614.00 L1098.52,613.59 L1096.53,613.17 L1094.53,612.74 L1092.53,612.30 L1090.53,611.85 L1088.53,611.38 L1086.54,610.90 L1084.54,610.41 L1082.54,609.92 L1080.54,609.41 L1078.55,608.89 L1076.55,608.37 L1074.55,607.83 L1072.55,607.29 L1070.55,606.74 L1068.56,606.19 L1066.56,605.62 L1064.56,605.05 L1062.56,604.48 L1060.56,603.90 L1058.57,603.31 L1056.57,602.72 L1054.57,602.13 L1052.57,601.53 L1050.58,600.93 L1048.58,600.33 L1046.58,599.73 L1044.58,599.12 L1042.58,598.52 L1040.59,597.91 L1038.59,597.31 L1036.59,596.70 L1034.59,596.10 L1032.59,595.50 L1030.60,594.90 L1028.60,594.31 L1026.60,593.71 L1024.60,593.13 L1022.60,592.54 L1020.61,591.96 L1018.61,591.39 L1016.61,590.83 L1014.61,590.27 L1012.62,589.71 L1010.62,589.17 L1008.62,588.63 L1006.62,588.10 L1004.62,587.58 L1002.63,587.07 L1000.63,586.57 L998.63,586.09 L996.63,585.61 L994.63,585.14 L992.64,584.69 L990.64,584.25 L988.64,583.82 L986.64,583.41 L984.65,583.01 L982.65,582.63 L980.65,582.26 L978.65,581.91 L976.65,581.57 L974.66,581.25 L972.66,580.95 L970.66,580.67 L968.66,580.41 L966.66,580.16 L964.67,579.93 L962.67,579.73 L960.67,579.54 L958.67,579.38 L956.67,579.23 L954.68,579.11 L952.68,579.01 L950.68,578.93 L948.68,578.87 L946.69,578.82 L944.69,578.80 L942.69,578.80 L940.69,578.82 L938.69,578.86 L936.70,578.92 L934.70,578.99 L932.70,579.09 L930.70,579.20 L928.70,579.34 L926.71,579.49 L924.71,579.66 L922.71,579.85 L920.71,580.06 L918.72,580.28 L916.72,580.53 L914.72,580.79 L912.72,581.07 L910.72,581.37 L908.73,581.68 L906.73,582.02 L904.73,582.36 L902.73,582.73 L900.73,583.11 L898.74,583.51 L896.74,583.93 L894.74,584.36 L892.74,584.81 L890.74,585.28 L888.75,585.76 L886.75,586.26 L884.75,586.77 L882.75,587.30 L880.76,587.85 L878.76,588.41 L876.76,588.98 L874.76,589.57 L872.76,590.18 L870.77,590.80 L868.77,591.43 L866.77,592.08 L864.77,592.74 L862.77,593.42 L860.78,594.11 L858.78,594.82 L856.78,595.54 L854.78,596.27 L852.79,597.02 L850.79,597.78 L848.79,598.55 L846.79,599.34 L844.79,600.14 L842.80,600.95 L840.80,601.77 L838.80,602.61 Z" fill="#999999" fill-opacity="0.260" stroke="none" stroke-width="0.00" stroke-linejoin="round"/>
<path d="M838.80,594.29 L840.80,593.43 L842.80,592.58 L844.79,591.74 L846.79,590.92 L848.79,590.11 L850.79,589.31 L852.79,588.53 L854.78,587.76 L856.78,587.01 L858.78,586.28 L860.78,585.55 L862.77,584.84 L864.77,584.15 L866.77,583.47 L868.77,582.81 L870.77,582.16 L872.76,581.53 L874.76,580.92 L876.76,580.31 L878.76,579.73 L880.76,579.16 L882.75,578.61 L884.75,578.07 L886.75,577.55 L888.75,577.05 L890.74,576.56 L892.74,576.09 L894.74,575.64 L896.74,575.20 L898.74,574.79 L900.73,574.38 L902.73,574.00 L904.73,573.63 L906.73,573.29 L908.73,572.96 L910.72,572.64 L912.72,572.35 L914.72,572.07 L916.72,571.81 L918.72,571.58 L920.71,571.35 L922.71,571.15 L924.71,570.97 L926.71,570.81 L928.70,570.66 L930.70,570.54 L932.70,570.43 L934.70,570.34 L936.70,570.28 L938.69,570.23 L940.69,570.20 L942.69,570.19 L944.69,570.21 L946.69,570.24 L948.68,570.30 L950.68,570.37 L952.68,570.47 L954.68,570.58 L956.67,570.72 L958.67,570.88 L960.67,571.06 L962.67,571.26 L964.67,571.48 L966.66,571.72 L968.66,571.99 L970.66,572.27 L972.66,572.57 L974.66,572.89 L976.65,573.22 L978.65,573.58 L980.65,573.95 L982.65,574.34 L984.65,574.74 L986.64,575.16 L988.64,575.59 L990.64,576.04 L992.64,576.50 L994.63,576.97 L996.63,577.45 L998.63,577.95 L1000.63,578.46 L1002.63,578.98 L1004.62,579.51 L1006.62,580.05 L1008.62,580.60 L1010.62,581.16 L1012.62,581.73 L1014.61,582.30 L1016.61,582.89 L1018.61,583.47 L1020.61,584.07 L1022.60,584.67 L1024.60,585.27 L1026.60,585.88 L1028.60,586.50 L1030.60,587.12 L1032.59,587.74 L1034.59,588.36 L1036.59,588.99 L1038.59,589.61 L1040.59,590.24 L1042.58,590.87 L1044.58,591.50 L1046.58,592.12 L1048.58,592.75 L1050.58,593.37 L1052.57,593.99 L1054.57,594.61 L1056.57,595.23 L1058.57,595.84 L1060.56,596.45 L1062.56,597.05 L1064.56,597.65 L1066.56,598.24 L1068.56,598.82 L1070.55,599.40 L1072.55,599.97 L1074.55,600.53 L1076.55,601.08 L1078.55,601.63 L1080.54,602.17 L1082.54,602.69 L1084.54,603.21 L1086.54,603.72 L1088.53,604.21 L1090.53,604.70 L1092.53,605.17 L1094.53,605.63 L1096.53,606.08 L1098.52,606.51 L1100.52,606.94 L1102.52,607.34 L1104.52,607.74 L1106.52,608.12 L1108.51,608.48 L1110.51,608.83 L1112.51,609.16 L1114.51,609.48 L1116.50,609.78 L1118.50,610.06 L1120.50,610.33 L1122.50,610.58 L1124.50,610.81 L1126.49,611.02 L1128.49,611.21 L1130.49,611.39 L1132.49,611.55 L1134.49,611.70 L1136.48,611.83 L1138.48,611.94 L1140.48,612.04 L1142.48,612.12 L1144.48,612.19 L1146.47,612.24 L1148.47,612.27 L1150.47,612.29 L1152.47,612.30 L1154.46,612.29 L1156.46,612.26 L1158.46,612.22 L1160.46,612.17 L1162.46,612.10 L1164.45,612.02 L1166.45,611.93 L1168.45,611.82 L1170.45,611.70 L1172.45,611.57 L1174.44,611.42 L1176.44,611.26 L1178.44,611.09 L1180.44,610.90 L1182.43,610.71 L1184.43,610.50 L1186.43,610.29 L1188.43,610.06 L1190.43,609.82 L1192.42,609.58 L1194.42,609.32 L1196.42,609.06 L1198.42,608.78 L1200.42,608.50 L1202.41,608.21 L1204.41,607.92 L1206.41,607.62 L1208.41,607.31 L1210.41,606.99 L1212.40,606.67 L1214.40,606.34 L1216.40,606.01 L1218.40,605.68 L1220.39,605.33 L1222.39,604.99 L1224.39,604.64 L1226.39,604.29 L1228.39,603.94 L1230.38,603.58 L1232.38,603.22 L1234.38,602.86 L1236.38,602.50 L1238.38,602.14 L1240.37,601.77 L1242.37,601.41 L1244.37,601.05 L1246.37,600.69 L1248.36,600.32 L1250.36,599.96 L1252.36,599.61 L1254.36,599.25 L1256.36,598.89 L1258.35,598.54 L1260.35,598.20 L1262.35,597.85 L1264.35,597.51 L1266.35,597.17 L1268.34,596.84 L1270.34,596.51 L1272.34,596.19 L1274.34,595.88 L1276.34,595.57 L1278.33,595.26 L1280.33,594.97 L1282.33,594.68 L1284.33,594.40 L1286.32,594.13 L1288.32,593.86 L1290.32,593.60 L1292.32,593.36 L1294.32,593.12 L1296.31,592.89 L1298.31,592.68 L1300.31,592.47 L1302.31,592.27 L1304.31,592.09 L1306.30,591.92 L1308.30,591.76 L1310.30,591.61 L1312.30,591.47 L1314.29,591.35 L1316.29,591.24 L1318.29,591.15 L1320.29,591.07 L1322.29,591.00 L1324.28,590.95 L1326.28,590.92 L1328.28,590.90" fill="none" stroke="#000" stroke-width="2.55" stroke-linejoin="round"/>
<path d="M838.80,682.70 L1114.13,682.69 L1117.76,682.13 L1121.39,681.56 L1125.02,680.95 L1128.65,680.30 L1132.28,679.58 L1135.91,678.81 L1139.54,678.04 L1143.17,677.25 L1146.80,676.46 L1150.43,675.66 L1154.06,674.85 L1157.69,674.02 L1161.32,673.18 L1164.95,672.33 L1168.58,671.45 L1172.21,670.53 L1175.84,669.58 L1179.47,668.61 L1183.10,667.61 L1186.72,666.60 L1190.35,665.58 L1193.98,664.55 L1197.61,663.52 L1201.24,662.50 L1204.87,661.49 L1208.50,660.49 L1212.13,659.49 L1215.76,658.48 L1219.39,657.46 L1223.02,656.45 L1226.65,655.43 L1230.28,654.41 L1233.91,653.40 L1237.54,652.38 L1241.17,651.36 L1244.80,650.35 L1248.43,649.34 L1252.06,648.34 L1255.69,647.33 L1259.32,646.33 L1262.95,645.33 L1266.58,644.32 L1270.21,643.32 L1273.84,642.32 L1277.47,641.32 L1281.09,640.31 L1284.72,639.31 L1288.35,638.30 L1291.98,637.29 L1295.61,636.28 L1299.24,635.27 L1302.87,634.26 L1306.50,633.25 L1310.13,632.23 L1313.76,631.22 L1317.39,630.21 L1321.02,629.19 L1324.65,628.17 L1328.28,627.16 L1328.28,648.16 L1324.65,648.86 L1321.02,649.57 L1317.39,650.28 L1313.76,650.99 L1310.13,651.70 L1306.50,652.41 L1302.87,653.12 L1299.24,653.83 L1295.61,654.54 L1291.98,655.26 L1288.35,655.97 L1284.72,656.69 L1281.09,657.40 L1277.47,658.12 L1273.84,658.84 L1270.21,659.56 L1266.58,660.28 L1262.95,661.01 L1259.32,661.73 L1255.69,662.45 L1252.06,663.17 L1248.43,663.88 L1244.80,664.60 L1241.17,665.31 L1237.54,666.02 L1233.91,666.72 L1230.28,667.43 L1226.65,668.13 L1223.02,668.84 L1219.39,669.55 L1215.76,670.26 L1212.13,670.97 L1208.50,671.69 L1204.87,672.41 L1201.24,673.13 L1197.61,673.83 L1193.98,674.52 L1190.35,675.22 L1186.72,675.92 L1183.10,676.63 L1179.47,677.36 L1175.84,678.11 L1172.21,678.88 L1168.58,679.69 L1164.95,680.53 L1161.32,681.40 L1157.69,682.28 L1154.06,683.18 L1150.43,684.09 L1146.80,685.01 L1143.17,685.95 L1139.54,686.89 L1135.91,687.84 L1132.28,688.79 L1128.65,689.79 L1125.02,690.86 L1121.39,691.98 L1117.76,693.13 L1114.13,694.29 L838.80,694.30 Z" fill="#E41A1C" fill-opacity="0.110" stroke="none" stroke-width="0.00" stroke-linejoin="round"/>
<path d="M838.80,688.50 L1114.13,688.49 L1117.76,687.63 L1121.39,686.77 L1125.02,685.91 L1128.65,685.05 L1132.28,684.18 L1135.91,683.32 L1139.54,682.46 L1143.17,681.60 L1146.80,680.74 L1150.43,679.88 L1154.06,679.01 L1157.69,678.15 L1161.32,677.29 L1164.95,676.43 L1168.58,675.57 L1172.21,674.71 L1175.84,673.84 L1179.47,672.98 L1183.10,672.12 L1186.72,671.26 L1190.35,670.40 L1193.98,669.54 L1197.61,668.68 L1201.24,667.81 L1204.87,666.95 L1208.50,666.09 L1212.13,665.23 L1215.76,664.37 L1219.39,663.51 L1223.02,662.64 L1226.65,661.78 L1230.28,660.92 L1233.91,660.06 L1237.54,659.20 L1241.17,658.34 L1244.80,657.47 L1248.43,656.61 L1252.06,655.75 L1255.69,654.89 L1259.32,654.03 L1262.95,653.17 L1266.58,652.30 L1270.21,651.44 L1273.84,650.58 L1277.47,649.72 L1281.09,648.86 L1284.72,648.00 L1288.35,647.13 L1291.98,646.27 L1295.61,645.41 L1299.24,644.55 L1302.87,643.69 L1306.50,642.83 L1310.13,641.97 L1313.76,641.10 L1317.39,640.24 L1321.02,639.38 L1324.65,638.52 L1328.28,637.66" fill="none" stroke="#E41A1C" stroke-width="2.55" stroke-linejoin="round"/>
<path d="M838.80,697.37 L840.80,696.22 L842.80,695.06 L844.79,693.89 L846.79,692.72 L848.79,691.54 L850.79,690.36 L852.79,689.18 L854.78,687.99 L856.78,686.80 L858.78,685.61 L860.78,684.42 L862.77,683.23 L864.77,682.04 L866.77,680.85 L868.77,679.66 L870.77,678.48 L872.76,677.31 L874.76,676.13 L876.76,674.97 L878.76,673.81 L880.76,672.66 L882.75,671.52 L884.75,670.39 L886.75,669.27 L888.75,668.15 L890.74,667.06 L892.74,665.97 L894.74,664.90 L896.74,663.84 L898.74,662.79 L900.73,661.77 L902.73,660.76 L904.73,659.76 L906.73,658.79 L908.73,657.83 L910.72,656.90 L912.72,655.98 L914.72,655.09 L916.72,654.22 L918.72,653.37 L920.71,652.55 L922.71,651.75 L924.71,650.98 L926.71,650.23 L928.70,649.52 L930.70,648.83 L932.70,648.17 L934.70,647.53 L936.70,646.93 L938.69,646.36 L940.69,645.83 L942.69,645.32 L944.69,644.85 L946.69,644.41 L948.68,644.01 L950.68,643.63 L952.68,643.30 L954.68,643.00 L956.67,642.73 L958.67,642.50 L960.67,642.31 L962.67,642.15 L964.67,642.03 L966.66,641.95 L968.66,641.90 L970.66,641.89 L972.66,641.91 L974.66,641.97 L976.65,642.06 L978.65,642.18 L980.65,642.34 L982.65,642.52 L984.65,642.74 L986.64,642.99 L988.64,643.27 L990.64,643.58 L992.64,643.92 L994.63,644.29 L996.63,644.69 L998.63,645.12 L1000.63,645.57 L1002.63,646.05 L1004.62,646.56 L1006.62,647.09 L1008.62,647.64 L1010.62,648.23 L1012.62,648.83 L1014.61,649.46 L1016.61,650.12 L1018.61,650.79 L1020.61,651.49 L1022.60,652.21 L1024.60,652.95 L1026.60,653.71 L1028.60,654.50 L1030.60,655.30 L1032.59,656.12 L1034.59,656.96 L1036.59,657.81 L1038.59,658.69 L1040.59,659.58 L1042.58,660.49 L1044.58,661.41 L1046.58,662.35 L1048.58,663.31 L1050.58,664.28 L1052.57,665.26 L1054.57,666.26 L1056.57,667.27 L1058.57,668.29 L1060.56,669.32 L1062.56,670.37 L1064.56,671.42 L1066.56,672.48 L1068.56,673.55 L1070.55,674.63 L1072.55,675.71 L1074.55,676.80 L1076.55,677.89 L1078.55,678.99 L1080.54,680.09 L1082.54,681.19 L1084.54,682.29 L1086.54,683.40 L1088.53,684.50 L1090.53,685.60 L1092.53,686.69 L1094.53,687.79 L1096.53,688.88 L1098.52,689.96 L1100.52,691.04 L1102.52,692.11 L1104.52,693.18 L1106.52,694.23 L1108.51,695.28 L1110.51,696.31 L1112.51,697.34 L1114.51,698.35 L1116.50,699.35 L1118.50,700.34 L1120.50,701.31 L1122.50,702.27 L1124.50,703.21 L1126.49,704.14 L1128.49,705.06 L1130.49,705.96 L1132.49,706.85 L1134.49,707.73 L1136.48,708.59 L1138.48,709.43 L1140.48,710.27 L1142.48,711.09 L1144.48,711.89 L1146.47,712.68 L1148.47,713.46 L1150.47,714.22 L1152.47,714.96 L1154.46,715.70 L1156.46,716.41 L1158.46,717.12 L1160.46,717.80 L1162.46,718.48 L1164.45,719.14 L1166.45,719.78 L1168.45,720.41 L1170.45,721.02 L1172.45,721.62 L1174.44,722.21 L1176.44,722.78 L1178.44,723.33 L1180.44,723.87 L1182.43,724.39 L1184.43,724.90 L1186.43,725.39 L1188.43,725.87 L1190.43,726.33 L1192.42,726.78 L1194.42,727.21 L1196.42,727.63 L1198.42,728.04 L1200.42,728.43 L1202.41,728.81 L1204.41,729.17 L1206.41,729.53 L1208.41,729.87 L1210.41,730.20 L1212.40,730.51 L1214.40,730.82 L1216.40,731.11 L1218.40,731.40 L1220.39,731.67 L1222.39,731.93 L1224.39,732.19 L1226.39,732.43 L1228.39,732.66 L1230.38,732.89 L1232.38,733.10 L1234.38,733.31 L1236.38,733.51 L1238.38,733.70 L1240.37,733.89 L1242.37,734.07 L1244.37,734.24 L1246.37,734.40 L1248.36,734.56 L1250.36,734.71 L1252.36,734.86 L1254.36,735.00 L1256.36,735.13 L1258.35,735.26 L1260.35,735.39 L1262.35,735.51 L1264.35,735.63 L1266.35,735.74 L1268.34,735.85 L1270.34,735.96 L1272.34,736.07 L1274.34,736.17 L1276.34,736.27 L1278.33,736.37 L1280.33,736.47 L1282.33,736.56 L1284.33,736.66 L1286.32,736.75 L1288.32,736.85 L1290.32,736.94 L1292.32,737.04 L1294.32,737.13 L1296.31,737.23 L1298.31,737.33 L1300.31,737.43 L1302.31,737.53 L1304.31,737.63 L1306.30,737.74 L1308.30,737.85 L1310.30,737.96 L1312.30,738.07 L1314.29,738.19 L1316.29,738.31 L1318.29,738.44 L1320.29,738.57 L1322.29,738.70 L1324.28,738.85 L1326.28,738.99 L1328.28,739.14 L1328.28,772.23 L1326.28,771.92 L1324.28,771.62 L1322.29,771.31 L1320.29,771.01 L1318.29,770.72 L1316.29,770.42 L1314.29,770.13 L1312.30,769.84 L1310.30,769.56 L1308.30,769.27 L1306.30,768.99 L1304.31,768.71 L1302.31,768.43 L1300.31,768.15 L1298.31,767.88 L1296.31,767.60 L1294.32,767.33 L1292.32,767.05 L1290.32,766.78 L1288.32,766.50 L1286.32,766.23 L1284.33,765.95 L1282.33,765.68 L1280.33,765.40 L1278.33,765.12 L1276.34,764.84 L1274.34,764.56 L1272.34,764.28 L1270.34,764.00 L1268.34,763.71 L1266.35,763.42 L1264.35,763.13 L1262.35,762.84 L1260.35,762.54 L1258.35,762.24 L1256.36,761.94 L1254.36,761.64 L1252.36,761.33 L1250.36,761.01 L1248.36,760.69 L1246.37,760.37 L1244.37,760.04 L1242.37,759.71 L1240.37,759.37 L1238.38,759.03 L1236.38,758.68 L1234.38,758.33 L1232.38,757.97 L1230.38,757.61 L1228.39,757.23 L1226.39,756.86 L1224.39,756.47 L1222.39,756.08 L1220.39,755.68 L1218.40,755.28 L1216.40,754.86 L1214.40,754.44 L1212.40,754.01 L1210.41,753.57 L1208.41,753.13 L1206.41,752.67 L1204.41,752.21 L1202.41,751.74 L1200.42,751.25 L1198.42,750.76 L1196.42,750.26 L1194.42,749.75 L1192.42,749.23 L1190.43,748.70 L1188.43,748.16 L1186.43,747.61 L1184.43,747.04 L1182.43,746.47 L1180.44,745.88 L1178.44,745.29 L1176.44,744.68 L1174.44,744.06 L1172.45,743.44 L1170.45,742.80 L1168.45,742.14 L1166.45,741.48 L1164.45,740.81 L1162.46,740.13 L1160.46,739.43 L1158.46,738.73 L1156.46,738.01 L1154.46,737.28 L1152.47,736.54 L1150.47,735.79 L1148.47,735.03 L1146.47,734.26 L1144.48,733.48 L1142.48,732.68 L1140.48,731.88 L1138.48,731.06 L1136.48,730.23 L1134.49,729.39 L1132.49,728.55 L1130.49,727.68 L1128.49,726.81 L1126.49,725.93 L1124.50,725.04 L1122.50,724.13 L1120.50,723.22 L1118.50,722.29 L1116.50,721.35 L1114.51,720.40 L1112.51,719.44 L1110.51,718.47 L1108.51,717.49 L1106.52,716.51 L1104.52,715.51 L1102.52,714.51 L1100.52,713.51 L1098.52,712.50 L1096.53,711.48 L1094.53,710.46 L1092.53,709.44 L1090.53,708.42 L1088.53,707.40 L1086.54,706.38 L1084.54,705.36 L1082.54,704.34 L1080.54,703.32 L1078.55,702.31 L1076.55,701.30 L1074.55,700.29 L1072.55,699.29 L1070.55,698.30 L1068.56,697.31 L1066.56,696.34 L1064.56,695.37 L1062.56,694.41 L1060.56,693.46 L1058.57,692.53 L1056.57,691.60 L1054.57,690.69 L1052.57,689.80 L1050.58,688.91 L1048.58,688.04 L1046.58,687.19 L1044.58,686.35 L1042.58,685.53 L1040.59,684.72 L1038.59,683.93 L1036.59,683.16 L1034.59,682.40 L1032.59,681.67 L1030.60,680.95 L1028.60,680.25 L1026.60,679.57 L1024.60,678.90 L1022.60,678.26 L1020.61,677.64 L1018.61,677.04 L1016.61,676.46 L1014.61,675.91 L1012.62,675.37 L1010.62,674.86 L1008.62,674.37 L1006.62,673.90 L1004.62,673.46 L1002.63,673.04 L1000.63,672.65 L998.63,672.28 L996.63,671.94 L994.63,671.62 L992.64,671.33 L990.64,671.07 L988.64,670.83 L986.64,670.62 L984.65,670.44 L982.65,670.29 L980.65,670.17 L978.65,670.07 L976.65,670.01 L974.66,669.98 L972.66,669.97 L970.66,670.00 L968.66,670.06 L966.66,670.15 L964.67,670.28 L962.67,670.44 L960.67,670.63 L958.67,670.85 L956.67,671.11 L954.68,671.39 L952.68,671.72 L950.68,672.07 L948.68,672.45 L946.69,672.86 L944.69,673.30 L942.69,673.78 L940.69,674.27 L938.69,674.80 L936.70,675.36 L934.70,675.94 L932.70,676.54 L930.70,677.18 L928.70,677.84 L926.71,678.52 L924.71,679.23 L922.71,679.97 L920.71,680.73 L918.72,681.52 L916.72,682.33 L914.72,683.16 L912.72,684.02 L910.72,684.90 L908.73,685.81 L906.73,686.74 L904.73,687.69 L902.73,688.67 L900.73,689.67 L898.74,690.69 L896.74,691.74 L894.74,692.80 L892.74,693.89 L890.74,695.00 L888.75,696.13 L886.75,697.29 L884.75,698.46 L882.75,699.66 L880.76,700.87 L878.76,702.11 L876.76,703.36 L874.76,704.64 L872.76,705.94 L870.77,707.25 L868.77,708.59 L866.77,709.94 L864.77,711.32 L862.77,712.71 L860.78,714.12 L858.78,715.55 L856.78,716.99 L854.78,718.46 L852.79,719.94 L850.79,721.44 L848.79,722.96 L846.79,724.49 L844.79,726.04 L842.80,727.61 L840.80,729.19 L838.80,730.79 Z" fill="#377EB8" fill-opacity="0.110" stroke="none" stroke-width="0.00" stroke-linejoin="round"/>
<path d="M838.80,714.08 L840.80,712.70 L842.80,711.33 L844.79,709.97 L846.79,708.60 L848.79,707.25 L850.79,705.90 L852.79,704.56 L854.78,703.22 L856.78,701.90 L858.78,700.58 L860.78,699.27 L862.77,697.97 L864.77,696.68 L866.77,695.40 L868.77,694.13 L870.77,692.87 L872.76,691.62 L874.76,690.39 L876.76,689.17 L878.76,687.96 L880.76,686.77 L882.75,685.59 L884.75,684.42 L886.75,683.28 L888.75,682.14 L890.74,681.03 L892.74,679.93 L894.74,678.85 L896.74,677.79 L898.74,676.74 L900.73,675.72 L902.73,674.71 L904.73,673.73 L906.73,672.76 L908.73,671.82 L910.72,670.90 L912.72,670.00 L914.72,669.13 L916.72,668.27 L918.72,667.45 L920.71,666.64 L922.71,665.86 L924.71,665.11 L926.71,664.38 L928.70,663.68 L930.70,663.00 L932.70,662.35 L934.70,661.74 L936.70,661.14 L938.69,660.58 L940.69,660.05 L942.69,659.55 L944.69,659.08 L946.69,658.64 L948.68,658.23 L950.68,657.85 L952.68,657.51 L954.68,657.20 L956.67,656.92 L958.67,656.67 L960.67,656.47 L962.67,656.29 L964.67,656.15 L966.66,656.05 L968.66,655.98 L970.66,655.95 L972.66,655.94 L974.66,655.97 L976.65,656.03 L978.65,656.13 L980.65,656.25 L982.65,656.41 L984.65,656.59 L986.64,656.81 L988.64,657.05 L990.64,657.33 L992.64,657.63 L994.63,657.96 L996.63,658.31 L998.63,658.70 L1000.63,659.11 L1002.63,659.55 L1004.62,660.01 L1006.62,660.49 L1008.62,661.01 L1010.62,661.54 L1012.62,662.10 L1014.61,662.68 L1016.61,663.29 L1018.61,663.92 L1020.61,664.57 L1022.60,665.24 L1024.60,665.93 L1026.60,666.64 L1028.60,667.37 L1030.60,668.12 L1032.59,668.89 L1034.59,669.68 L1036.59,670.49 L1038.59,671.31 L1040.59,672.15 L1042.58,673.01 L1044.58,673.88 L1046.58,674.77 L1048.58,675.68 L1050.58,676.60 L1052.57,677.53 L1054.57,678.48 L1056.57,679.44 L1058.57,680.41 L1060.56,681.39 L1062.56,682.39 L1064.56,683.39 L1066.56,684.41 L1068.56,685.43 L1070.55,686.46 L1072.55,687.50 L1074.55,688.55 L1076.55,689.59 L1078.55,690.65 L1080.54,691.70 L1082.54,692.76 L1084.54,693.82 L1086.54,694.89 L1088.53,695.95 L1090.53,697.01 L1092.53,698.07 L1094.53,699.13 L1096.53,700.18 L1098.52,701.23 L1100.52,702.27 L1102.52,703.31 L1104.52,704.35 L1106.52,705.37 L1108.51,706.39 L1110.51,707.39 L1112.51,708.39 L1114.51,709.38 L1116.50,710.35 L1118.50,711.31 L1120.50,712.26 L1122.50,713.20 L1124.50,714.12 L1126.49,715.04 L1128.49,715.94 L1130.49,716.82 L1132.49,717.70 L1134.49,718.56 L1136.48,719.41 L1138.48,720.25 L1140.48,721.07 L1142.48,721.88 L1144.48,722.68 L1146.47,723.47 L1148.47,724.24 L1150.47,725.00 L1152.47,725.75 L1154.46,726.49 L1156.46,727.21 L1158.46,727.92 L1160.46,728.62 L1162.46,729.30 L1164.45,729.97 L1166.45,730.63 L1168.45,731.28 L1170.45,731.91 L1172.45,732.53 L1174.44,733.14 L1176.44,733.73 L1178.44,734.31 L1180.44,734.88 L1182.43,735.43 L1184.43,735.97 L1186.43,736.50 L1188.43,737.01 L1190.43,737.52 L1192.42,738.01 L1194.42,738.48 L1196.42,738.95 L1198.42,739.40 L1200.42,739.84 L1202.41,740.27 L1204.41,740.69 L1206.41,741.10 L1208.41,741.50 L1210.41,741.88 L1212.40,742.26 L1214.40,742.63 L1216.40,742.99 L1218.40,743.34 L1220.39,743.68 L1222.39,744.01 L1224.39,744.33 L1226.39,744.64 L1228.39,744.95 L1230.38,745.25 L1232.38,745.54 L1234.38,745.82 L1236.38,746.10 L1238.38,746.37 L1240.37,746.63 L1242.37,746.89 L1244.37,747.14 L1246.37,747.39 L1248.36,747.63 L1250.36,747.86 L1252.36,748.09 L1254.36,748.32 L1256.36,748.54 L1258.35,748.75 L1260.35,748.97 L1262.35,749.18 L1264.35,749.38 L1266.35,749.58 L1268.34,749.78 L1270.34,749.98 L1272.34,750.17 L1274.34,750.37 L1276.34,750.56 L1278.33,750.75 L1280.33,750.93 L1282.33,751.12 L1284.33,751.31 L1286.32,751.49 L1288.32,751.68 L1290.32,751.86 L1292.32,752.04 L1294.32,752.23 L1296.31,752.42 L1298.31,752.60 L1300.31,752.79 L1302.31,752.98 L1304.31,753.17 L1306.30,753.36 L1308.30,753.56 L1310.30,753.76 L1312.30,753.96 L1314.29,754.16 L1316.29,754.37 L1318.29,754.58 L1320.29,754.79 L1322.29,755.01 L1324.28,755.23 L1326.28,755.46 L1328.28,755.69" fill="none" stroke="#377EB8" stroke-width="2.55" stroke-linejoin="round"/>
<rect x="838.80" y="833.00" width="244.74" height="14.70" fill="#CCCCCC"/>
<text transform="translate(902.94,830.60) scale(0.9562,1)" font-size="22.20" fill="#7F7F7F">excess–light</text>
<circle cx="838.80" cy="594.20" r="4.20" fill="#000"/>
<circle cx="838.80" cy="596.20" r="4.20" fill="#000"/>
<circle cx="838.80" cy="600.80" r="4.20" fill="#000"/>
<circle cx="961.17" cy="559.20" r="4.20" fill="#000"/>
<circle cx="961.17" cy="566.50" r="4.20" fill="#000"/>
<circle cx="961.17" cy="567.80" r="4.20" fill="#000"/>
<circle cx="1083.54" cy="595.40" r="4.20" fill="#000"/>
<circle cx="1083.54" cy="598.80" r="4.20" fill="#000"/>
<circle cx="1083.54" cy="599.60" r="4.20" fill="#000"/>
<circle cx="1114.13" cy="618.10" r="4.20" fill="#000"/>
<circle cx="1114.13" cy="624.70" r="4.20" fill="#000"/>
<circle cx="1114.13" cy="643.10" r="4.20" fill="#000"/>
<circle cx="1144.72" cy="600.90" r="4.20" fill="#000"/>
<circle cx="1144.72" cy="614.10" r="4.20" fill="#000"/>
<circle cx="1144.72" cy="615.40" r="4.20" fill="#000"/>
<circle cx="1205.91" cy="597.70" r="4.20" fill="#000"/>
<circle cx="1205.91" cy="603.00" r="4.20" fill="#000"/>
<circle cx="1205.91" cy="608.00" r="4.20" fill="#000"/>
<circle cx="1328.28" cy="582.40" r="4.20" fill="#000"/>
<circle cx="1328.28" cy="583.70" r="4.20" fill="#000"/>
<circle cx="1328.28" cy="606.70" r="4.20" fill="#000"/>
<circle cx="838.80" cy="647.90" r="4.20" fill="#E41A1C"/>
<circle cx="838.80" cy="674.00" r="4.20" fill="#E41A1C"/>
<circle cx="838.80" cy="676.60" r="4.20" fill="#E41A1C"/>
<circle cx="961.17" cy="669.00" r="4.20" fill="#E41A1C"/>
<circle cx="961.17" cy="676.70" r="4.20" fill="#E41A1C"/>
<circle cx="961.17" cy="681.20" r="4.20" fill="#E41A1C"/>
<circle cx="1083.54" cy="682.20" r="4.20" fill="#E41A1C"/>
<circle cx="1083.54" cy="688.50" r="4.20" fill="#E41A1C"/>
<circle cx="1083.54" cy="710.10" r="4.20" fill="#E41A1C"/>
<circle cx="1114.13" cy="713.20" r="4.20" fill="#E41A1C"/>
<circle cx="1114.13" cy="728.50" r="4.20" fill="#E41A1C"/>
<circle cx="1114.13" cy="742.30" r="4.20" fill="#E41A1C"/>
<circle cx="1144.72" cy="663.60" r="4.20" fill="#E41A1C"/>
<circle cx="1144.72" cy="683.90" r="4.20" fill="#E41A1C"/>
<circle cx="1144.72" cy="712.00" r="4.20" fill="#E41A1C"/>
<circle cx="1205.91" cy="657.70" r="4.20" fill="#E41A1C"/>
<circle cx="1205.91" cy="664.10" r="4.20" fill="#E41A1C"/>
<circle cx="1205.91" cy="672.80" r="4.20" fill="#E41A1C"/>
<circle cx="1328.28" cy="619.20" r="4.20" fill="#E41A1C"/>
<circle cx="1328.28" cy="643.50" r="4.20" fill="#E41A1C"/>
<circle cx="1328.28" cy="650.80" r="4.20" fill="#E41A1C"/>
<circle cx="838.80" cy="703.90" r="4.20" fill="#377EB8"/>
<circle cx="838.80" cy="714.80" r="4.20" fill="#377EB8"/>
<circle cx="838.80" cy="747.90" r="4.20" fill="#377EB8"/>
<circle cx="961.17" cy="634.90" r="4.20" fill="#377EB8"/>
<circle cx="961.17" cy="644.80" r="4.20" fill="#377EB8"/>
<circle cx="961.17" cy="655.30" r="4.20" fill="#377EB8"/>
<circle cx="1083.54" cy="676.70" r="4.20" fill="#377EB8"/>
<circle cx="1083.54" cy="691.60" r="4.20" fill="#377EB8"/>
<circle cx="1083.54" cy="699.90" r="4.20" fill="#377EB8"/>
<circle cx="1114.13" cy="712.10" r="4.20" fill="#377EB8"/>
<circle cx="1114.13" cy="731.60" r="4.20" fill="#377EB8"/>
<circle cx="1144.72" cy="707.20" r="4.20" fill="#377EB8"/>
<circle cx="1144.72" cy="778.80" r="4.20" fill="#377EB8"/>
<circle cx="1205.91" cy="738.60" r="4.20" fill="#377EB8"/>
<circle cx="1205.91" cy="740.40" r="4.20" fill="#377EB8"/>
<circle cx="1205.91" cy="742.20" r="4.20" fill="#377EB8"/>
<circle cx="1328.28" cy="717.70" r="4.20" fill="#377EB8"/>
<circle cx="1328.28" cy="774.40" r="4.20" fill="#377EB8"/>
<circle cx="1328.28" cy="782.20" r="4.20" fill="#377EB8"/>
<line x1="838.80" y1="639.00" x2="838.80" y2="660.30" stroke="#E41A1C" stroke-opacity="0.33" stroke-width="2.70"/>
<line x1="838.80" y1="663.40" x2="838.80" y2="688.00" stroke="#E41A1C" stroke-opacity="0.33" stroke-width="2.70"/>
<line x1="838.80" y1="665.00" x2="838.80" y2="690.00" stroke="#E41A1C" stroke-opacity="0.33" stroke-width="2.70"/>
<line x1="961.17" y1="662.00" x2="961.17" y2="680.00" stroke="#E41A1C" stroke-opacity="0.33" stroke-width="2.70"/>
<line x1="961.17" y1="668.00" x2="961.17" y2="690.00" stroke="#E41A1C" stroke-opacity="0.33" stroke-width="2.70"/>
<line x1="961.17" y1="669.00" x2="961.17" y2="694.60" stroke="#E41A1C" stroke-opacity="0.33" stroke-width="2.70"/>
<line x1="1083.54" y1="667.00" x2="1083.54" y2="698.00" stroke="#E41A1C" stroke-opacity="0.33" stroke-width="2.70"/>
<line x1="1083.54" y1="673.00" x2="1083.54" y2="705.00" stroke="#E41A1C" stroke-opacity="0.33" stroke-width="2.70"/>
<line x1="1083.54" y1="692.00" x2="1083.54" y2="732.00" stroke="#E41A1C" stroke-opacity="0.33" stroke-width="2.70"/>
<line x1="1114.13" y1="697.00" x2="1114.13" y2="730.00" stroke="#E41A1C" stroke-opacity="0.33" stroke-width="2.70"/>
<line x1="1114.13" y1="710.00" x2="1114.13" y2="748.00" stroke="#E41A1C" stroke-opacity="0.33" stroke-width="2.70"/>
<line x1="1114.13" y1="722.00" x2="1114.13" y2="765.20" stroke="#E41A1C" stroke-opacity="0.33" stroke-width="2.70"/>
<line x1="1144.72" y1="654.70" x2="1144.72" y2="675.00" stroke="#E41A1C" stroke-opacity="0.33" stroke-width="2.70"/>
<line x1="1144.72" y1="670.00" x2="1144.72" y2="700.00" stroke="#E41A1C" stroke-opacity="0.33" stroke-width="2.70"/>
<line x1="1144.72" y1="696.00" x2="1144.72" y2="728.40" stroke="#E41A1C" stroke-opacity="0.33" stroke-width="2.70"/>
<line x1="1205.91" y1="644.10" x2="1205.91" y2="672.00" stroke="#E41A1C" stroke-opacity="0.33" stroke-width="2.70"/>
<line x1="1205.91" y1="650.00" x2="1205.91" y2="678.00" stroke="#E41A1C" stroke-opacity="0.33" stroke-width="2.70"/>
<line x1="1205.91" y1="659.00" x2="1205.91" y2="686.80" stroke="#E41A1C" stroke-opacity="0.33" stroke-width="2.70"/>
<line x1="1328.28" y1="610.50" x2="1328.28" y2="630.00" stroke="#E41A1C" stroke-opacity="0.33" stroke-width="2.70"/>
<line x1="1328.28" y1="631.00" x2="1328.28" y2="658.00" stroke="#E41A1C" stroke-opacity="0.33" stroke-width="2.70"/>
<line x1="1328.28" y1="638.00" x2="1328.28" y2="663.20" stroke="#E41A1C" stroke-opacity="0.33" stroke-width="2.70"/>
<line x1="838.80" y1="690.00" x2="838.80" y2="720.00" stroke="#377EB8" stroke-opacity="0.33" stroke-width="2.70"/>
<line x1="838.80" y1="699.00" x2="838.80" y2="733.00" stroke="#377EB8" stroke-opacity="0.33" stroke-width="2.70"/>
<line x1="838.80" y1="728.00" x2="838.80" y2="767.70" stroke="#377EB8" stroke-opacity="0.33" stroke-width="2.70"/>
<line x1="961.17" y1="624.30" x2="961.17" y2="648.00" stroke="#377EB8" stroke-opacity="0.33" stroke-width="2.70"/>
<line x1="961.17" y1="633.00" x2="961.17" y2="658.00" stroke="#377EB8" stroke-opacity="0.33" stroke-width="2.70"/>
<line x1="961.17" y1="643.00" x2="961.17" y2="665.70" stroke="#377EB8" stroke-opacity="0.33" stroke-width="2.70"/>
<line x1="1083.54" y1="663.00" x2="1083.54" y2="692.00" stroke="#377EB8" stroke-opacity="0.33" stroke-width="2.70"/>
<line x1="1083.54" y1="677.00" x2="1083.54" y2="706.00" stroke="#377EB8" stroke-opacity="0.33" stroke-width="2.70"/>
<line x1="1083.54" y1="685.00" x2="1083.54" y2="722.70" stroke="#377EB8" stroke-opacity="0.33" stroke-width="2.70"/>
<line x1="1114.13" y1="693.50" x2="1114.13" y2="730.00" stroke="#377EB8" stroke-opacity="0.33" stroke-width="2.70"/>
<line x1="1114.13" y1="712.00" x2="1114.13" y2="751.90" stroke="#377EB8" stroke-opacity="0.33" stroke-width="2.70"/>
<line x1="1144.72" y1="691.60" x2="1144.72" y2="724.00" stroke="#377EB8" stroke-opacity="0.33" stroke-width="2.70"/>
<line x1="1144.72" y1="754.20" x2="1144.72" y2="810.00" stroke="#377EB8" stroke-opacity="0.33" stroke-width="2.70"/>
<line x1="1205.91" y1="718.00" x2="1205.91" y2="758.00" stroke="#377EB8" stroke-opacity="0.33" stroke-width="2.70"/>
<line x1="1205.91" y1="720.00" x2="1205.91" y2="762.00" stroke="#377EB8" stroke-opacity="0.33" stroke-width="2.70"/>
<line x1="1205.91" y1="722.00" x2="1205.91" y2="765.80" stroke="#377EB8" stroke-opacity="0.33" stroke-width="2.70"/>
<line x1="1328.28" y1="701.30" x2="1328.28" y2="746.40" stroke="#377EB8" stroke-opacity="0.33" stroke-width="2.70"/>
<line x1="1328.28" y1="750.10" x2="1328.28" y2="798.70" stroke="#377EB8" stroke-opacity="0.33" stroke-width="2.70"/>
<line x1="1328.28" y1="749.70" x2="1328.28" y2="814.70" stroke="#377EB8" stroke-opacity="0.33" stroke-width="2.70"/>
<path d="M814.50,546.10 L814.50,854.20 L1353.00,854.20" fill="none" stroke="#000" stroke-width="2.3" stroke-linejoin="round"/>
<line x1="838.80" y1="854.20" x2="838.80" y2="860.50" stroke="#333" stroke-width="2.3"/>
<text transform="translate(832.88,881.20) scale(0.9550,1)" font-size="22.20" fill="#4D4D4D">0</text>
<line x1="961.17" y1="854.20" x2="961.17" y2="860.50" stroke="#333" stroke-width="2.3"/>
<text transform="translate(949.38,881.20) scale(0.9550,1)" font-size="22.20" fill="#4D4D4D">30</text>
<line x1="1083.54" y1="854.20" x2="1083.54" y2="860.50" stroke="#333" stroke-width="2.3"/>
<text transform="translate(1071.65,881.20) scale(0.9550,1)" font-size="22.20" fill="#4D4D4D">60</text>
<line x1="1114.13" y1="854.20" x2="1114.13" y2="860.50" stroke="#333" stroke-width="2.3"/>
<line x1="1144.72" y1="854.20" x2="1144.72" y2="860.50" stroke="#333" stroke-width="2.3"/>
<text transform="translate(1132.88,881.20) scale(0.9550,1)" font-size="22.20" fill="#4D4D4D">75</text>
<line x1="1205.91" y1="854.20" x2="1205.91" y2="860.50" stroke="#333" stroke-width="2.3"/>
<text transform="translate(1194.07,881.20) scale(0.9550,1)" font-size="22.20" fill="#4D4D4D">90</text>
<line x1="1328.28" y1="854.20" x2="1328.28" y2="860.50" stroke="#333" stroke-width="2.3"/>
<text transform="translate(1310.18,881.20) scale(0.9550,1)" font-size="22.20" fill="#4D4D4D">120</text>
<line x1="808.20" y1="599.20" x2="814.50" y2="599.20" stroke="#333" stroke-width="2.3"/>
<text transform="translate(774.05,607.30) scale(0.9550,1)" font-size="22.20" fill="#4D4D4D">6.5</text>
<line x1="808.20" y1="666.50" x2="814.50" y2="666.50" stroke="#333" stroke-width="2.3"/>
<text transform="translate(773.95,674.60) scale(0.9550,1)" font-size="22.20" fill="#4D4D4D">6.0</text>
<line x1="808.20" y1="733.60" x2="814.50" y2="733.60" stroke="#333" stroke-width="2.3"/>
<text transform="translate(774.05,741.70) scale(0.9550,1)" font-size="22.20" fill="#4D4D4D">5.5</text>
<line x1="808.20" y1="800.50" x2="814.50" y2="800.50" stroke="#333" stroke-width="2.3"/>
<text transform="translate(773.95,808.60) scale(0.9550,1)" font-size="22.20" fill="#4D4D4D">5.0</text>
<text transform="translate(1059.20,911.10) scale(1.0000,1)" font-size="26.40" fill="#000">time</text>
<text transform="translate(12.93,34.70) scale(0.9654,1)" font-size="34.50" font-weight="bold" fill="#000">A</text>
<text transform="translate(741.50,34.80) scale(0.9143,1)" font-size="34.50" font-weight="bold" fill="#000">B</text>
<text transform="translate(12.41,531.40) scale(0.9956,1)" font-size="34.50" font-weight="bold" fill="#000">C</text>
<text transform="translate(741.21,531.20) scale(0.9528,1)" font-size="34.50" font-weight="bold" fill="#000">D</text>
<text transform="translate(86.30,30.80) scale(0.9687,1)" font-size="26.60" fill="#000">AT1G64140</text>
<text transform="translate(814.70,31.00) scale(0.9665,1)" font-size="26.60" fill="#000">AT4G34590</text>
<text transform="translate(86.60,527.20) scale(0.9651,1)" font-size="26.60" fill="#000">AT1G28610</text>
<text transform="translate(814.90,527.20) scale(0.9651,1)" font-size="26.60" fill="#000">AT3G23280</text>
<rect x="275.00" y="945.70" width="37.80" height="30.60" fill="#FBE5E5" stroke="#E41A1C" stroke-width="3.00"/>
<rect x="363.90" y="945.70" width="32.40" height="30.60" fill="#FBE5E5" stroke="#E41A1C" stroke-width="3.00"/>
<rect x="413.20" y="945.70" width="42.70" height="30.60" fill="#FBE5E5" stroke="#E41A1C" stroke-width="3.00"/>
<rect x="275.00" y="976.30" width="37.80" height="30.80" fill="#E9EFF6" stroke="#377EB8" stroke-width="3.00"/>
<rect x="363.90" y="976.30" width="32.70" height="30.80" fill="#E9EFF6" stroke="#377EB8" stroke-width="3.00"/>
<rect x="413.20" y="976.30" width="21.60" height="30.80" fill="#E9EFF6" stroke="#377EB8" stroke-width="3.00"/>
<rect x="451.90" y="976.30" width="41.50" height="30.80" fill="#E9EFF6" stroke="#377EB8" stroke-width="3.00"/>
<rect x="508.70" y="976.30" width="38.90" height="30.80" fill="#E9EFF6" stroke="#377EB8" stroke-width="3.00"/>
<line x1="274.20" y1="976.30" x2="547.90" y2="976.30" stroke="#333333" stroke-width="2.9"/>
<path d="M332.00,969.50 L342.30,976.30 L332.00,983.10" fill="none" stroke="#333333" stroke-width="2.6" stroke-linejoin="miter" stroke-linecap="butt"/>
<text transform="translate(122.00,969.80) scale(0.9631,1)" font-size="24.00" fill="#E41A1C">AT1G28610.1</text>
<text transform="translate(122.20,999.80) scale(0.9802,1)" font-size="24.00" fill="#377EB8">AT1G28610.2</text>
<rect x="966.20" y="945.50" width="12.50" height="31.00" fill="#FBE5E5" stroke="#E41A1C" stroke-width="3.00"/>
<rect x="990.80" y="945.50" width="13.40" height="31.00" fill="#FBE5E5" stroke="#E41A1C" stroke-width="3.00"/>
<rect x="1034.30" y="945.50" width="10.20" height="31.00" fill="#FBE5E5" stroke="#E41A1C" stroke-width="3.00"/>
<rect x="1056.40" y="945.50" width="10.30" height="31.00" fill="#FBE5E5" stroke="#E41A1C" stroke-width="3.00"/>
<rect x="1079.60" y="945.50" width="10.90" height="31.00" fill="#FBE5E5" stroke="#E41A1C" stroke-width="3.00"/>
<rect x="1105.90" y="945.50" width="9.90" height="31.00" fill="#FBE5E5" stroke="#E41A1C" stroke-width="3.00"/>
<rect x="1129.30" y="945.50" width="11.60" height="31.00" fill="#FBE5E5" stroke="#E41A1C" stroke-width="3.00"/>
<rect x="1152.00" y="945.50" width="8.30" height="31.00" fill="#FBE5E5" stroke="#E41A1C" stroke-width="3.00"/>
<rect x="1184.50" y="945.50" width="9.90" height="31.00" fill="#FBE5E5" stroke="#E41A1C" stroke-width="3.00"/>
<rect x="1206.90" y="945.50" width="69.00" height="31.00" fill="#FBE5E5" stroke="#E41A1C" stroke-width="3.00"/>
<rect x="966.20" y="976.50" width="12.50" height="31.00" fill="#E9EFF6" stroke="#377EB8" stroke-width="3.00"/>
<rect x="990.80" y="976.50" width="13.40" height="31.00" fill="#E9EFF6" stroke="#377EB8" stroke-width="3.00"/>
<rect x="1034.30" y="976.50" width="10.20" height="31.00" fill="#E9EFF6" stroke="#377EB8" stroke-width="3.00"/>
<rect x="1056.40" y="976.50" width="10.30" height="31.00" fill="#E9EFF6" stroke="#377EB8" stroke-width="3.00"/>
<rect x="1079.60" y="976.50" width="10.90" height="31.00" fill="#E9EFF6" stroke="#377EB8" stroke-width="3.00"/>
<rect x="1105.90" y="976.50" width="9.90" height="31.00" fill="#E9EFF6" stroke="#377EB8" stroke-width="3.00"/>
<rect x="1129.30" y="976.50" width="11.60" height="31.00" fill="#E9EFF6" stroke="#377EB8" stroke-width="3.00"/>
<rect x="1184.50" y="976.50" width="9.90" height="31.00" fill="#E9EFF6" stroke="#377EB8" stroke-width="3.00"/>
<rect x="1206.90" y="976.50" width="69.00" height="31.00" fill="#E9EFF6" stroke="#377EB8" stroke-width="3.00"/>
<line x1="965.40" y1="976.50" x2="1276.30" y2="976.50" stroke="#333333" stroke-width="2.9"/>
<path d="M1009.00,969.70 L1019.30,976.50 L1009.00,983.30" fill="none" stroke="#333333" stroke-width="2.6" stroke-linejoin="miter" stroke-linecap="butt"/>
<path d="M1162.40,969.70 L1172.70,976.50 L1162.40,983.30" fill="none" stroke="#333333" stroke-width="2.6" stroke-linejoin="miter" stroke-linecap="butt"/>
<text transform="translate(816.60,969.80) scale(0.9556,1)" font-size="24.00" fill="#E41A1C">AT3G23280.1</text>
<text transform="translate(816.80,999.80) scale(0.9727,1)" font-size="24.00" fill="#377EB8">AT3G23280.2</text>
<rect x="0" y="0" width="1.25" height="1018" fill="#111"/>
</svg>
</body></html>
